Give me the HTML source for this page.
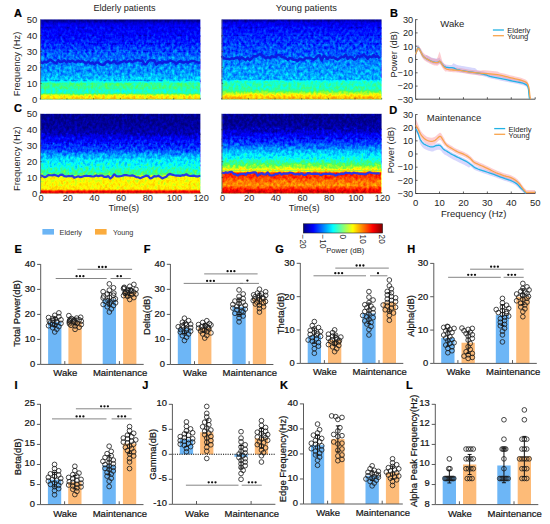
<!DOCTYPE html>
<html><head><meta charset="utf-8"><style>
html,body{margin:0;padding:0;background:#fff;width:550px;height:524px;overflow:hidden}
svg{display:block}
text{font-family:"Liberation Sans",sans-serif;stroke:#141414;stroke-width:0.22px;paint-order:stroke}
text.m{stroke:none}
</style></head><body>
<svg width="550" height="524" viewBox="0 0 550 524">
<defs>
<linearGradient id="sAE" gradientUnits="userSpaceOnUse" x1="0" y1="19.5" x2="0" y2="99.4"><stop offset="0" stop-color="rgb(3,3,3)"/><stop offset="0.02" stop-color="rgb(8,8,8)"/><stop offset="0.04" stop-color="rgb(20,20,20)"/><stop offset="0.07" stop-color="rgb(29,29,29)"/><stop offset="0.2" stop-color="rgb(33,33,33)"/><stop offset="0.33" stop-color="rgb(43,43,43)"/><stop offset="0.42" stop-color="rgb(54,54,54)"/><stop offset="0.49" stop-color="rgb(60,60,60)"/><stop offset="0.56" stop-color="rgb(65,65,65)"/><stop offset="0.66" stop-color="rgb(69,69,69)"/><stop offset="0.71" stop-color="rgb(76,76,76)"/><stop offset="0.76" stop-color="rgb(84,84,84)"/><stop offset="0.78" stop-color="rgb(97,97,97)"/><stop offset="0.8" stop-color="rgb(116,116,116)"/><stop offset="0.86" stop-color="rgb(117,117,117)"/><stop offset="0.88" stop-color="rgb(106,106,106)"/><stop offset="0.92" stop-color="rgb(107,107,107)"/><stop offset="0.94" stop-color="rgb(143,143,143)"/><stop offset="0.96" stop-color="rgb(163,163,163)"/><stop offset="1" stop-color="rgb(170,170,170)"/></linearGradient>
<filter id="sAEf0" x="0" y="0" width="1" height="1" color-interpolation-filters="sRGB" filterUnits="objectBoundingBox">
<feTurbulence type="fractalNoise" baseFrequency="0.36 0.3" numOctaves="2" seed="3" result="n"/>
<feColorMatrix in="n" type="matrix" values="1 0 0 0 0 1 0 0 0 0 1 0 0 0 0 0 0 0 0 1" result="g0"/>
<feGaussianBlur in="g0" stdDeviation="0.45" result="g"/>
<feComposite in="SourceGraphic" in2="g" operator="arithmetic" k1="0" k2="1" k3="0.12" k4="-0.06" result="s"/>
<feComponentTransfer in="s"><feFuncR type="table" tableValues="0 0 0 0 0.3 1 1 1 0.5"/>
<feFuncG type="table" tableValues="0 0 0.5 1 1 1 0.5 0 0"/>
<feFuncB type="table" tableValues="0.5 1 1 1 0.35 0 0 0 0"/></feComponentTransfer>
</filter>
<filter id="sAEf1" x="0" y="0" width="1" height="1" color-interpolation-filters="sRGB" filterUnits="objectBoundingBox">
<feTurbulence type="fractalNoise" baseFrequency="0.36 0.3" numOctaves="2" seed="3" result="n"/>
<feColorMatrix in="n" type="matrix" values="1 0 0 0 0 1 0 0 0 0 1 0 0 0 0 0 0 0 0 1" result="g0"/>
<feGaussianBlur in="g0" stdDeviation="0.45" result="g"/>
<feComposite in="SourceGraphic" in2="g" operator="arithmetic" k1="0" k2="1" k3="0.16" k4="-0.08" result="s"/>
<feComponentTransfer in="s"><feFuncR type="table" tableValues="0 0 0 0 0.3 1 1 1 0.5"/>
<feFuncG type="table" tableValues="0 0 0.5 1 1 1 0.5 0 0"/>
<feFuncB type="table" tableValues="0.5 1 1 1 0.35 0 0 0 0"/></feComponentTransfer>
</filter>
<filter id="sAEf2" x="0" y="0" width="1" height="1" color-interpolation-filters="sRGB" filterUnits="objectBoundingBox">
<feTurbulence type="fractalNoise" baseFrequency="0.36 0.3" numOctaves="2" seed="3" result="n"/>
<feColorMatrix in="n" type="matrix" values="1 0 0 0 0 1 0 0 0 0 1 0 0 0 0 0 0 0 0 1" result="g0"/>
<feGaussianBlur in="g0" stdDeviation="0.45" result="g"/>
<feComposite in="SourceGraphic" in2="g" operator="arithmetic" k1="0" k2="1" k3="0.2" k4="-0.1" result="s"/>
<feComponentTransfer in="s"><feFuncR type="table" tableValues="0 0 0 0 0.3 1 1 1 0.5"/>
<feFuncG type="table" tableValues="0 0 0.5 1 1 1 0.5 0 0"/>
<feFuncB type="table" tableValues="0.5 1 1 1 0.35 0 0 0 0"/></feComponentTransfer>
</filter>
<filter id="sAEf3" x="0" y="0" width="1" height="1" color-interpolation-filters="sRGB" filterUnits="objectBoundingBox">
<feTurbulence type="fractalNoise" baseFrequency="0.36 0.3" numOctaves="2" seed="3" result="n"/>
<feColorMatrix in="n" type="matrix" values="1 0 0 0 0 1 0 0 0 0 1 0 0 0 0 0 0 0 0 1" result="g0"/>
<feGaussianBlur in="g0" stdDeviation="0.45" result="g"/>
<feComposite in="SourceGraphic" in2="g" operator="arithmetic" k1="0" k2="1" k3="0.24" k4="-0.12" result="s"/>
<feComponentTransfer in="s"><feFuncR type="table" tableValues="0 0 0 0 0.3 1 1 1 0.5"/>
<feFuncG type="table" tableValues="0 0 0.5 1 1 1 0.5 0 0"/>
<feFuncB type="table" tableValues="0.5 1 1 1 0.35 0 0 0 0"/></feComponentTransfer>
</filter>
<filter id="sAEf4" x="0" y="0" width="1" height="1" color-interpolation-filters="sRGB" filterUnits="objectBoundingBox">
<feTurbulence type="fractalNoise" baseFrequency="0.36 0.3" numOctaves="2" seed="3" result="n"/>
<feColorMatrix in="n" type="matrix" values="1 0 0 0 0 1 0 0 0 0 1 0 0 0 0 0 0 0 0 1" result="g0"/>
<feGaussianBlur in="g0" stdDeviation="0.45" result="g"/>
<feComposite in="SourceGraphic" in2="g" operator="arithmetic" k1="0" k2="1" k3="0.26" k4="-0.13" result="s"/>
<feComponentTransfer in="s"><feFuncR type="table" tableValues="0 0 0 0 0.3 1 1 1 0.5"/>
<feFuncG type="table" tableValues="0 0 0.5 1 1 1 0.5 0 0"/>
<feFuncB type="table" tableValues="0.5 1 1 1 0.35 0 0 0 0"/></feComponentTransfer>
</filter>
<filter id="sAEf5" x="0" y="0" width="1" height="1" color-interpolation-filters="sRGB" filterUnits="objectBoundingBox">
<feTurbulence type="fractalNoise" baseFrequency="0.36 0.3" numOctaves="2" seed="3" result="n"/>
<feColorMatrix in="n" type="matrix" values="1 0 0 0 0 1 0 0 0 0 1 0 0 0 0 0 0 0 0 1" result="g0"/>
<feGaussianBlur in="g0" stdDeviation="0.45" result="g"/>
<feComposite in="SourceGraphic" in2="g" operator="arithmetic" k1="0" k2="1" k3="0.19" k4="-0.095" result="s"/>
<feComponentTransfer in="s"><feFuncR type="table" tableValues="0 0 0 0 0.3 1 1 1 0.5"/>
<feFuncG type="table" tableValues="0 0 0.5 1 1 1 0.5 0 0"/>
<feFuncB type="table" tableValues="0.5 1 1 1 0.35 0 0 0 0"/></feComponentTransfer>
</filter>
<linearGradient id="sAY" gradientUnits="userSpaceOnUse" x1="0" y1="19.5" x2="0" y2="99.4"><stop offset="0" stop-color="rgb(5,5,5)"/><stop offset="0.02" stop-color="rgb(13,13,13)"/><stop offset="0.04" stop-color="rgb(26,26,26)"/><stop offset="0.1" stop-color="rgb(33,33,33)"/><stop offset="0.2" stop-color="rgb(41,41,41)"/><stop offset="0.33" stop-color="rgb(48,48,48)"/><stop offset="0.42" stop-color="rgb(54,54,54)"/><stop offset="0.51" stop-color="rgb(64,64,64)"/><stop offset="0.62" stop-color="rgb(71,71,71)"/><stop offset="0.74" stop-color="rgb(76,76,76)"/><stop offset="0.76" stop-color="rgb(89,89,89)"/><stop offset="0.78" stop-color="rgb(105,105,105)"/><stop offset="0.88" stop-color="rgb(112,112,112)"/><stop offset="0.9" stop-color="rgb(128,128,128)"/><stop offset="0.94" stop-color="rgb(158,158,158)"/><stop offset="0.97" stop-color="rgb(173,173,173)"/><stop offset="1" stop-color="rgb(178,178,178)"/></linearGradient>
<filter id="sAYf0" x="0" y="0" width="1" height="1" color-interpolation-filters="sRGB" filterUnits="objectBoundingBox">
<feTurbulence type="fractalNoise" baseFrequency="0.36 0.3" numOctaves="2" seed="5" result="n"/>
<feColorMatrix in="n" type="matrix" values="1 0 0 0 0 1 0 0 0 0 1 0 0 0 0 0 0 0 0 1" result="g0"/>
<feGaussianBlur in="g0" stdDeviation="0.45" result="g"/>
<feComposite in="SourceGraphic" in2="g" operator="arithmetic" k1="0" k2="1" k3="0.14" k4="-0.07" result="s"/>
<feComponentTransfer in="s"><feFuncR type="table" tableValues="0 0 0 0 0.3 1 1 1 0.5"/>
<feFuncG type="table" tableValues="0 0 0.5 1 1 1 0.5 0 0"/>
<feFuncB type="table" tableValues="0.5 1 1 1 0.35 0 0 0 0"/></feComponentTransfer>
</filter>
<filter id="sAYf1" x="0" y="0" width="1" height="1" color-interpolation-filters="sRGB" filterUnits="objectBoundingBox">
<feTurbulence type="fractalNoise" baseFrequency="0.36 0.3" numOctaves="2" seed="5" result="n"/>
<feColorMatrix in="n" type="matrix" values="1 0 0 0 0 1 0 0 0 0 1 0 0 0 0 0 0 0 0 1" result="g0"/>
<feGaussianBlur in="g0" stdDeviation="0.45" result="g"/>
<feComposite in="SourceGraphic" in2="g" operator="arithmetic" k1="0" k2="1" k3="0.18" k4="-0.09" result="s"/>
<feComponentTransfer in="s"><feFuncR type="table" tableValues="0 0 0 0 0.3 1 1 1 0.5"/>
<feFuncG type="table" tableValues="0 0 0.5 1 1 1 0.5 0 0"/>
<feFuncB type="table" tableValues="0.5 1 1 1 0.35 0 0 0 0"/></feComponentTransfer>
</filter>
<filter id="sAYf2" x="0" y="0" width="1" height="1" color-interpolation-filters="sRGB" filterUnits="objectBoundingBox">
<feTurbulence type="fractalNoise" baseFrequency="0.36 0.3" numOctaves="2" seed="5" result="n"/>
<feColorMatrix in="n" type="matrix" values="1 0 0 0 0 1 0 0 0 0 1 0 0 0 0 0 0 0 0 1" result="g0"/>
<feGaussianBlur in="g0" stdDeviation="0.45" result="g"/>
<feComposite in="SourceGraphic" in2="g" operator="arithmetic" k1="0" k2="1" k3="0.22" k4="-0.11" result="s"/>
<feComponentTransfer in="s"><feFuncR type="table" tableValues="0 0 0 0 0.3 1 1 1 0.5"/>
<feFuncG type="table" tableValues="0 0 0.5 1 1 1 0.5 0 0"/>
<feFuncB type="table" tableValues="0.5 1 1 1 0.35 0 0 0 0"/></feComponentTransfer>
</filter>
<filter id="sAYf3" x="0" y="0" width="1" height="1" color-interpolation-filters="sRGB" filterUnits="objectBoundingBox">
<feTurbulence type="fractalNoise" baseFrequency="0.36 0.3" numOctaves="2" seed="5" result="n"/>
<feColorMatrix in="n" type="matrix" values="1 0 0 0 0 1 0 0 0 0 1 0 0 0 0 0 0 0 0 1" result="g0"/>
<feGaussianBlur in="g0" stdDeviation="0.45" result="g"/>
<feComposite in="SourceGraphic" in2="g" operator="arithmetic" k1="0" k2="1" k3="0.26" k4="-0.13" result="s"/>
<feComponentTransfer in="s"><feFuncR type="table" tableValues="0 0 0 0 0.3 1 1 1 0.5"/>
<feFuncG type="table" tableValues="0 0 0.5 1 1 1 0.5 0 0"/>
<feFuncB type="table" tableValues="0.5 1 1 1 0.35 0 0 0 0"/></feComponentTransfer>
</filter>
<filter id="sAYf4" x="0" y="0" width="1" height="1" color-interpolation-filters="sRGB" filterUnits="objectBoundingBox">
<feTurbulence type="fractalNoise" baseFrequency="0.36 0.3" numOctaves="2" seed="5" result="n"/>
<feColorMatrix in="n" type="matrix" values="1 0 0 0 0 1 0 0 0 0 1 0 0 0 0 0 0 0 0 1" result="g0"/>
<feGaussianBlur in="g0" stdDeviation="0.45" result="g"/>
<feComposite in="SourceGraphic" in2="g" operator="arithmetic" k1="0" k2="1" k3="0.19" k4="-0.095" result="s"/>
<feComponentTransfer in="s"><feFuncR type="table" tableValues="0 0 0 0 0.3 1 1 1 0.5"/>
<feFuncG type="table" tableValues="0 0 0.5 1 1 1 0.5 0 0"/>
<feFuncB type="table" tableValues="0.5 1 1 1 0.35 0 0 0 0"/></feComponentTransfer>
</filter>
<linearGradient id="sCE" gradientUnits="userSpaceOnUse" x1="0" y1="113.9" x2="0" y2="193.5"><stop offset="0" stop-color="rgb(3,3,3)"/><stop offset="0.15" stop-color="rgb(8,8,8)"/><stop offset="0.24" stop-color="rgb(13,13,13)"/><stop offset="0.29" stop-color="rgb(26,26,26)"/><stop offset="0.36" stop-color="rgb(36,36,36)"/><stop offset="0.45" stop-color="rgb(48,48,48)"/><stop offset="0.51" stop-color="rgb(69,69,69)"/><stop offset="0.57" stop-color="rgb(89,89,89)"/><stop offset="0.66" stop-color="rgb(98,98,98)"/><stop offset="0.69" stop-color="rgb(107,107,107)"/><stop offset="0.74" stop-color="rgb(117,117,117)"/><stop offset="0.77" stop-color="rgb(133,133,133)"/><stop offset="0.78" stop-color="rgb(158,158,158)"/><stop offset="0.94" stop-color="rgb(163,163,163)"/><stop offset="0.95" stop-color="rgb(173,173,173)"/><stop offset="0.97" stop-color="rgb(222,222,222)"/><stop offset="1" stop-color="rgb(230,230,230)"/></linearGradient>
<filter id="sCEf0" x="0" y="0" width="1" height="1" color-interpolation-filters="sRGB" filterUnits="objectBoundingBox">
<feTurbulence type="fractalNoise" baseFrequency="0.36 0.3" numOctaves="2" seed="9" result="n"/>
<feColorMatrix in="n" type="matrix" values="1 0 0 0 0 1 0 0 0 0 1 0 0 0 0 0 0 0 0 1" result="g0"/>
<feGaussianBlur in="g0" stdDeviation="0.45" result="g"/>
<feComposite in="SourceGraphic" in2="g" operator="arithmetic" k1="0" k2="1" k3="0.16" k4="-0.08" result="s"/>
<feComponentTransfer in="s"><feFuncR type="table" tableValues="0 0 0 0 0.3 1 1 1 0.5"/>
<feFuncG type="table" tableValues="0 0 0.5 1 1 1 0.5 0 0"/>
<feFuncB type="table" tableValues="0.5 1 1 1 0.35 0 0 0 0"/></feComponentTransfer>
</filter>
<filter id="sCEf1" x="0" y="0" width="1" height="1" color-interpolation-filters="sRGB" filterUnits="objectBoundingBox">
<feTurbulence type="fractalNoise" baseFrequency="0.36 0.3" numOctaves="2" seed="9" result="n"/>
<feColorMatrix in="n" type="matrix" values="1 0 0 0 0 1 0 0 0 0 1 0 0 0 0 0 0 0 0 1" result="g0"/>
<feGaussianBlur in="g0" stdDeviation="0.45" result="g"/>
<feComposite in="SourceGraphic" in2="g" operator="arithmetic" k1="0" k2="1" k3="0.21" k4="-0.105" result="s"/>
<feComponentTransfer in="s"><feFuncR type="table" tableValues="0 0 0 0 0.3 1 1 1 0.5"/>
<feFuncG type="table" tableValues="0 0 0.5 1 1 1 0.5 0 0"/>
<feFuncB type="table" tableValues="0.5 1 1 1 0.35 0 0 0 0"/></feComponentTransfer>
</filter>
<filter id="sCEf2" x="0" y="0" width="1" height="1" color-interpolation-filters="sRGB" filterUnits="objectBoundingBox">
<feTurbulence type="fractalNoise" baseFrequency="0.36 0.3" numOctaves="2" seed="9" result="n"/>
<feColorMatrix in="n" type="matrix" values="1 0 0 0 0 1 0 0 0 0 1 0 0 0 0 0 0 0 0 1" result="g0"/>
<feGaussianBlur in="g0" stdDeviation="0.45" result="g"/>
<feComposite in="SourceGraphic" in2="g" operator="arithmetic" k1="0" k2="1" k3="0.26" k4="-0.13" result="s"/>
<feComponentTransfer in="s"><feFuncR type="table" tableValues="0 0 0 0 0.3 1 1 1 0.5"/>
<feFuncG type="table" tableValues="0 0 0.5 1 1 1 0.5 0 0"/>
<feFuncB type="table" tableValues="0.5 1 1 1 0.35 0 0 0 0"/></feComponentTransfer>
</filter>
<filter id="sCEf3" x="0" y="0" width="1" height="1" color-interpolation-filters="sRGB" filterUnits="objectBoundingBox">
<feTurbulence type="fractalNoise" baseFrequency="0.36 0.3" numOctaves="2" seed="9" result="n"/>
<feColorMatrix in="n" type="matrix" values="1 0 0 0 0 1 0 0 0 0 1 0 0 0 0 0 0 0 0 1" result="g0"/>
<feGaussianBlur in="g0" stdDeviation="0.45" result="g"/>
<feComposite in="SourceGraphic" in2="g" operator="arithmetic" k1="0" k2="1" k3="0.17" k4="-0.085" result="s"/>
<feComponentTransfer in="s"><feFuncR type="table" tableValues="0 0 0 0 0.3 1 1 1 0.5"/>
<feFuncG type="table" tableValues="0 0 0.5 1 1 1 0.5 0 0"/>
<feFuncB type="table" tableValues="0.5 1 1 1 0.35 0 0 0 0"/></feComponentTransfer>
</filter>
<linearGradient id="sCY" gradientUnits="userSpaceOnUse" x1="0" y1="113.9" x2="0" y2="193.5"><stop offset="0" stop-color="rgb(3,3,3)"/><stop offset="0.15" stop-color="rgb(8,8,8)"/><stop offset="0.2" stop-color="rgb(15,15,15)"/><stop offset="0.26" stop-color="rgb(28,28,28)"/><stop offset="0.35" stop-color="rgb(43,43,43)"/><stop offset="0.41" stop-color="rgb(59,59,59)"/><stop offset="0.47" stop-color="rgb(79,79,79)"/><stop offset="0.54" stop-color="rgb(94,94,94)"/><stop offset="0.59" stop-color="rgb(107,107,107)"/><stop offset="0.64" stop-color="rgb(128,128,128)"/><stop offset="0.68" stop-color="rgb(148,148,148)"/><stop offset="0.7" stop-color="rgb(161,161,161)"/><stop offset="0.73" stop-color="rgb(171,171,171)"/><stop offset="0.74" stop-color="rgb(214,214,214)"/><stop offset="0.8" stop-color="rgb(209,209,209)"/><stop offset="0.84" stop-color="rgb(194,194,194)"/><stop offset="0.9" stop-color="rgb(189,189,189)"/><stop offset="0.93" stop-color="rgb(204,204,204)"/><stop offset="0.96" stop-color="rgb(224,224,224)"/><stop offset="1" stop-color="rgb(235,235,235)"/></linearGradient>
<filter id="sCYf0" x="0" y="0" width="1" height="1" color-interpolation-filters="sRGB" filterUnits="objectBoundingBox">
<feTurbulence type="fractalNoise" baseFrequency="0.36 0.3" numOctaves="2" seed="11" result="n"/>
<feColorMatrix in="n" type="matrix" values="1 0 0 0 0 1 0 0 0 0 1 0 0 0 0 0 0 0 0 1" result="g0"/>
<feGaussianBlur in="g0" stdDeviation="0.45" result="g"/>
<feComposite in="SourceGraphic" in2="g" operator="arithmetic" k1="0" k2="1" k3="0.16" k4="-0.08" result="s"/>
<feComponentTransfer in="s"><feFuncR type="table" tableValues="0 0 0 0 0.3 1 1 1 0.5"/>
<feFuncG type="table" tableValues="0 0 0.5 1 1 1 0.5 0 0"/>
<feFuncB type="table" tableValues="0.5 1 1 1 0.35 0 0 0 0"/></feComponentTransfer>
</filter>
<filter id="sCYf1" x="0" y="0" width="1" height="1" color-interpolation-filters="sRGB" filterUnits="objectBoundingBox">
<feTurbulence type="fractalNoise" baseFrequency="0.36 0.3" numOctaves="2" seed="11" result="n"/>
<feColorMatrix in="n" type="matrix" values="1 0 0 0 0 1 0 0 0 0 1 0 0 0 0 0 0 0 0 1" result="g0"/>
<feGaussianBlur in="g0" stdDeviation="0.45" result="g"/>
<feComposite in="SourceGraphic" in2="g" operator="arithmetic" k1="0" k2="1" k3="0.21" k4="-0.105" result="s"/>
<feComponentTransfer in="s"><feFuncR type="table" tableValues="0 0 0 0 0.3 1 1 1 0.5"/>
<feFuncG type="table" tableValues="0 0 0.5 1 1 1 0.5 0 0"/>
<feFuncB type="table" tableValues="0.5 1 1 1 0.35 0 0 0 0"/></feComponentTransfer>
</filter>
<filter id="sCYf2" x="0" y="0" width="1" height="1" color-interpolation-filters="sRGB" filterUnits="objectBoundingBox">
<feTurbulence type="fractalNoise" baseFrequency="0.36 0.3" numOctaves="2" seed="11" result="n"/>
<feColorMatrix in="n" type="matrix" values="1 0 0 0 0 1 0 0 0 0 1 0 0 0 0 0 0 0 0 1" result="g0"/>
<feGaussianBlur in="g0" stdDeviation="0.45" result="g"/>
<feComposite in="SourceGraphic" in2="g" operator="arithmetic" k1="0" k2="1" k3="0.24" k4="-0.12" result="s"/>
<feComponentTransfer in="s"><feFuncR type="table" tableValues="0 0 0 0 0.3 1 1 1 0.5"/>
<feFuncG type="table" tableValues="0 0 0.5 1 1 1 0.5 0 0"/>
<feFuncB type="table" tableValues="0.5 1 1 1 0.35 0 0 0 0"/></feComponentTransfer>
</filter>
<filter id="sCYf3" x="0" y="0" width="1" height="1" color-interpolation-filters="sRGB" filterUnits="objectBoundingBox">
<feTurbulence type="fractalNoise" baseFrequency="0.36 0.3" numOctaves="2" seed="11" result="n"/>
<feColorMatrix in="n" type="matrix" values="1 0 0 0 0 1 0 0 0 0 1 0 0 0 0 0 0 0 0 1" result="g0"/>
<feGaussianBlur in="g0" stdDeviation="0.45" result="g"/>
<feComposite in="SourceGraphic" in2="g" operator="arithmetic" k1="0" k2="1" k3="0.2" k4="-0.1" result="s"/>
<feComponentTransfer in="s"><feFuncR type="table" tableValues="0 0 0 0 0.3 1 1 1 0.5"/>
<feFuncG type="table" tableValues="0 0 0.5 1 1 1 0.5 0 0"/>
<feFuncB type="table" tableValues="0.5 1 1 1 0.35 0 0 0 0"/></feComponentTransfer>
</filter>
<linearGradient id="cbg" x1="0" y1="0" x2="1" y2="0"><stop offset="0" stop-color="#000080"/><stop offset="0.125" stop-color="#0000ff"/><stop offset="0.375" stop-color="#00ffff"/><stop offset="0.625" stop-color="#ffff00"/><stop offset="0.875" stop-color="#ff0000"/><stop offset="1" stop-color="#800000"/></linearGradient>
</defs>
<rect width="550" height="524" fill="#fff"/>
<rect x="40.3" y="19.5" width="160" height="8.99" fill="url(#sAE)" filter="url(#sAEf0)"/>
<rect x="40.3" y="27.49" width="160" height="8.99" fill="url(#sAE)" filter="url(#sAEf1)"/>
<rect x="40.3" y="35.48" width="160" height="8.99" fill="url(#sAE)" filter="url(#sAEf2)"/>
<rect x="40.3" y="43.47" width="160" height="8.99" fill="url(#sAE)" filter="url(#sAEf3)"/>
<rect x="40.3" y="51.46" width="160" height="30.46" fill="url(#sAE)" filter="url(#sAEf4)"/>
<rect x="40.3" y="80.92" width="160" height="18.48" fill="url(#sAE)" filter="url(#sAEf5)"/>
<polyline points="40.3,61.91 42.3,63.25 44.3,61.74 46.3,62.42 48.3,61.33 50.3,59.49 52.3,61.16 54.3,62.44 56.3,63.39 58.3,60.04 60.3,62.16 62.3,61.66 64.3,60.24 66.3,62.39 68.3,60.84 70.3,61.75 72.3,60.62 74.3,61.77 76.3,62.13 78.3,60.5 80.3,61.83 82.3,61.03 84.3,62.14 86.3,63.36 88.3,61.54 90.3,63.36 92.3,62.41 94.3,64.45 96.3,62.46 98.3,62.61 100.3,64.22 102.3,64.8 104.3,64.58 106.3,61.72 108.3,61.24 110.3,63.04 112.3,62.3 114.3,60.89 116.3,63.42 118.3,63.48 120.3,62.33 122.3,61.87 124.3,60.73 126.3,62.25 128.3,61.28 130.3,60.67 132.3,62.16 134.3,60.77 136.3,60.52 138.3,60.03 140.3,60.95 142.3,60.44 144.3,64.13 146.3,64.01 148.3,61.19 150.3,59.98 152.3,60.64 154.3,60.22 156.3,64.73 158.3,62.74 160.3,62.21 162.3,63.23 164.3,61.8 166.3,62.54 168.3,61.79 170.3,60.47 172.3,61.49 174.3,62.01 176.3,63.89 178.3,62.12 180.3,61.06 182.3,62.38 184.3,62.48 186.3,61.57 188.3,62.62 190.3,61.35 192.3,60.88 194.3,61.25 196.3,61.92 198.3,62.69 200.3,62.56" fill="none" stroke="#0c1ce0" stroke-width="2.5" stroke-linejoin="round"/>
<rect x="221.7" y="19.5" width="159.8" height="8.99" fill="url(#sAY)" filter="url(#sAYf0)"/>
<rect x="221.7" y="27.49" width="159.8" height="8.99" fill="url(#sAY)" filter="url(#sAYf1)"/>
<rect x="221.7" y="35.48" width="159.8" height="8.99" fill="url(#sAY)" filter="url(#sAYf2)"/>
<rect x="221.7" y="43.47" width="159.8" height="36.95" fill="url(#sAY)" filter="url(#sAYf3)"/>
<rect x="221.7" y="79.42" width="159.8" height="19.98" fill="url(#sAY)" filter="url(#sAYf4)"/>
<polyline points="221.7,55.91 223.7,58.17 225.7,58.66 227.7,58.66 229.7,59.46 231.7,58.21 233.7,58.81 235.7,57.89 237.7,57.58 239.7,59.53 241.7,57.26 243.7,58.59 245.7,60.18 247.7,57.7 249.7,60.31 251.7,58.46 253.7,55.96 255.7,56.31 257.7,55.68 259.7,53.9 261.7,55.13 263.7,56.37 265.7,58.41 267.7,57.09 269.7,57.96 271.7,56.3 273.7,56.83 275.7,56.75 277.7,54.92 279.7,54.92 281.7,56.76 283.7,57.19 285.7,58.11 287.7,59.91 289.7,57.88 291.7,58.72 293.7,59.79 295.7,59.94 297.7,61.1 299.7,58.42 301.7,59.48 303.7,59.9 305.7,57.8 307.7,57.88 309.7,58.16 311.7,58.58 313.7,59.66 315.7,58.33 317.7,55.78 319.7,55.32 321.7,60.56 323.7,55.75 325.7,56.82 327.7,59 329.7,56.75 331.7,57.85 333.7,57.24 335.7,58.81 337.7,59.56 339.7,58.2 341.7,56.71 343.7,57.29 345.7,54.52 347.7,58.97 349.7,56.94 351.7,56.92 353.7,59.57 355.7,58.96 357.7,55.88 359.7,56.85 361.7,55.93 363.7,54.49 365.7,56.35 367.7,58.83 369.7,56.28 371.7,57.17 373.7,54.93 375.7,56.92 377.7,56.12 379.7,58.46" fill="none" stroke="#0c1ce0" stroke-width="2.5" stroke-linejoin="round"/>
<rect x="40.3" y="113.9" width="160" height="20.9" fill="url(#sCE)" filter="url(#sCEf0)"/>
<rect x="40.3" y="133.8" width="160" height="10.95" fill="url(#sCE)" filter="url(#sCEf1)"/>
<rect x="40.3" y="143.75" width="160" height="31.84" fill="url(#sCE)" filter="url(#sCEf2)"/>
<rect x="40.3" y="174.59" width="160" height="18.91" fill="url(#sCE)" filter="url(#sCEf3)"/>
<polyline points="40.3,175.25 42.3,175.92 44.3,177.08 46.3,176.58 48.3,175.14 50.3,175.25 52.3,175.43 54.3,174.86 56.3,175.57 58.3,176.3 60.3,174.88 62.3,174.72 64.3,176.08 66.3,176.53 68.3,175.96 70.3,176.22 72.3,175.83 74.3,177.59 76.3,176.99 78.3,176.29 80.3,177.12 82.3,176.7 84.3,175.99 86.3,175.79 88.3,175.99 90.3,176.16 92.3,176.51 94.3,176.32 96.3,175.41 98.3,176.22 100.3,175.67 102.3,175.64 104.3,176.97 106.3,176.88 108.3,176.11 110.3,178.5 112.3,176.8 114.3,174.29 116.3,176.11 118.3,176.34 120.3,176.27 122.3,175.8 124.3,175.11 126.3,175.16 128.3,175.52 130.3,175.76 132.3,175.38 134.3,176.03 136.3,177.14 138.3,177.24 140.3,178.16 142.3,177.28 144.3,176.46 146.3,175.6 148.3,176.15 150.3,178.43 152.3,177.7 154.3,176.15 156.3,176.51 158.3,175.7 160.3,176.94 162.3,178.4 164.3,177.45 166.3,176.73 168.3,174.59 170.3,173.91 172.3,174.66 174.3,175.27 176.3,175.61 178.3,175.57 180.3,175.94 182.3,175.15 184.3,175.34 186.3,174.25 188.3,175.5 190.3,175.99 192.3,175.79 194.3,175.69 196.3,176.47 198.3,176.31 200.3,175.77" fill="none" stroke="#2a38e4" stroke-width="2.2" stroke-linejoin="round"/>
<rect x="221.7" y="113.9" width="159.8" height="15.93" fill="url(#sCY)" filter="url(#sCYf0)"/>
<rect x="221.7" y="128.83" width="159.8" height="10.95" fill="url(#sCY)" filter="url(#sCYf1)"/>
<rect x="221.7" y="138.78" width="159.8" height="32.84" fill="url(#sCY)" filter="url(#sCYf2)"/>
<rect x="221.7" y="170.62" width="159.8" height="22.88" fill="url(#sCY)" filter="url(#sCYf3)"/>
<polyline points="221.7,172.41 223.7,173.26 225.7,172.26 227.7,172.83 229.7,172.16 231.7,171.79 233.7,173.92 235.7,174.43 237.7,175.56 239.7,174.31 241.7,173.89 243.7,173.74 245.7,174.88 247.7,172.72 249.7,173.29 251.7,172.74 253.7,172.37 255.7,172.44 257.7,175.56 259.7,174.27 261.7,173.11 263.7,174.52 265.7,174.49 267.7,172.35 269.7,175.14 271.7,175.51 273.7,175.16 275.7,174.09 277.7,173.83 279.7,172.96 281.7,174.53 283.7,173.6 285.7,173.72 287.7,173.71 289.7,172.72 291.7,172.77 293.7,173.91 295.7,174.48 297.7,174.04 299.7,174.31 301.7,173.25 303.7,174.92 305.7,174.79 307.7,173.11 309.7,173.41 311.7,174.01 313.7,173.59 315.7,173.79 317.7,173.62 319.7,174.6 321.7,174.84 323.7,173.81 325.7,173.78 327.7,174 329.7,173.67 331.7,174.05 333.7,174.34 335.7,175.56 337.7,174.45 339.7,174.3 341.7,173.66 343.7,174.01 345.7,172.7 347.7,173.03 349.7,172.93 351.7,173.86 353.7,172.71 355.7,173.13 357.7,173.42 359.7,173.88 361.7,173.8 363.7,174.1 365.7,174.28 367.7,173.11 369.7,172.23 371.7,173.03 373.7,173.27 375.7,173.5 377.7,173.41 379.7,173.32" fill="none" stroke="#2a38e4" stroke-width="2.2" stroke-linejoin="round"/>
<path d="M40.6,19.5 V99.4" stroke="#6a6a70" stroke-width="0.8" fill="none"/>
<path d="M40.3,99.15 H200.3" stroke="#6a6a70" stroke-width="0.5" fill="none" opacity="0.7"/>
<text x="37.3" y="22.9" font-size="9.5" text-anchor="end" fill="#1e1e1e" class="m">50</text>
<line x1="40.3" y1="35.48" x2="41.8" y2="35.48" stroke="#333" stroke-width="0.6"/>
<text x="37.3" y="38.88" font-size="9.5" text-anchor="end" fill="#1e1e1e" class="m">40</text>
<line x1="40.3" y1="51.46" x2="41.8" y2="51.46" stroke="#333" stroke-width="0.6"/>
<text x="37.3" y="54.86" font-size="9.5" text-anchor="end" fill="#1e1e1e" class="m">30</text>
<line x1="40.3" y1="67.44" x2="41.8" y2="67.44" stroke="#333" stroke-width="0.6"/>
<text x="37.3" y="70.84" font-size="9.5" text-anchor="end" fill="#1e1e1e" class="m">20</text>
<line x1="40.3" y1="83.42" x2="41.8" y2="83.42" stroke="#333" stroke-width="0.6"/>
<text x="37.3" y="86.82" font-size="9.5" text-anchor="end" fill="#1e1e1e" class="m">10</text>
<text x="37.3" y="102.8" font-size="9.5" text-anchor="end" fill="#1e1e1e" class="m">0</text>
<line x1="40.3" y1="97.9" x2="40.3" y2="99.4" stroke="#333" stroke-width="0.6"/>
<line x1="66.97" y1="97.9" x2="66.97" y2="99.4" stroke="#333" stroke-width="0.6"/>
<line x1="93.63" y1="97.9" x2="93.63" y2="99.4" stroke="#333" stroke-width="0.6"/>
<line x1="120.3" y1="97.9" x2="120.3" y2="99.4" stroke="#333" stroke-width="0.6"/>
<line x1="146.97" y1="97.9" x2="146.97" y2="99.4" stroke="#333" stroke-width="0.6"/>
<line x1="173.63" y1="97.9" x2="173.63" y2="99.4" stroke="#333" stroke-width="0.6"/>
<line x1="200.3" y1="97.9" x2="200.3" y2="99.4" stroke="#333" stroke-width="0.6"/>
<path d="M40.6,113.9 V193.5" stroke="#6a6a70" stroke-width="0.8" fill="none"/>
<path d="M40.3,193.25 H200.3" stroke="#6a6a70" stroke-width="0.5" fill="none" opacity="0.7"/>
<text x="37.3" y="117.3" font-size="9.5" text-anchor="end" fill="#1e1e1e" class="m">50</text>
<line x1="40.3" y1="129.82" x2="41.8" y2="129.82" stroke="#333" stroke-width="0.6"/>
<text x="37.3" y="133.22" font-size="9.5" text-anchor="end" fill="#1e1e1e" class="m">40</text>
<line x1="40.3" y1="145.74" x2="41.8" y2="145.74" stroke="#333" stroke-width="0.6"/>
<text x="37.3" y="149.14" font-size="9.5" text-anchor="end" fill="#1e1e1e" class="m">30</text>
<line x1="40.3" y1="161.66" x2="41.8" y2="161.66" stroke="#333" stroke-width="0.6"/>
<text x="37.3" y="165.06" font-size="9.5" text-anchor="end" fill="#1e1e1e" class="m">20</text>
<line x1="40.3" y1="177.58" x2="41.8" y2="177.58" stroke="#333" stroke-width="0.6"/>
<text x="37.3" y="180.98" font-size="9.5" text-anchor="end" fill="#1e1e1e" class="m">10</text>
<text x="37.3" y="196.9" font-size="9.5" text-anchor="end" fill="#1e1e1e" class="m">0</text>
<line x1="40.3" y1="192" x2="40.3" y2="193.5" stroke="#333" stroke-width="0.6"/>
<text x="41.1" y="201.3" font-size="9.2" text-anchor="middle" fill="#1e1e1e" class="m">0</text>
<line x1="66.97" y1="192" x2="66.97" y2="193.5" stroke="#333" stroke-width="0.6"/>
<text x="67.77" y="201.3" font-size="9.2" text-anchor="middle" fill="#1e1e1e" class="m">20</text>
<line x1="93.63" y1="192" x2="93.63" y2="193.5" stroke="#333" stroke-width="0.6"/>
<text x="94.43" y="201.3" font-size="9.2" text-anchor="middle" fill="#1e1e1e" class="m">40</text>
<line x1="120.3" y1="192" x2="120.3" y2="193.5" stroke="#333" stroke-width="0.6"/>
<text x="121.1" y="201.3" font-size="9.2" text-anchor="middle" fill="#1e1e1e" class="m">60</text>
<line x1="146.97" y1="192" x2="146.97" y2="193.5" stroke="#333" stroke-width="0.6"/>
<text x="147.77" y="201.3" font-size="9.2" text-anchor="middle" fill="#1e1e1e" class="m">80</text>
<line x1="173.63" y1="192" x2="173.63" y2="193.5" stroke="#333" stroke-width="0.6"/>
<text x="174.43" y="201.3" font-size="9.2" text-anchor="middle" fill="#1e1e1e" class="m">100</text>
<line x1="200.3" y1="192" x2="200.3" y2="193.5" stroke="#333" stroke-width="0.6"/>
<text x="201.1" y="201.3" font-size="9.2" text-anchor="middle" fill="#1e1e1e" class="m">120</text>
<text x="123.8" y="210.8" font-size="9.2" text-anchor="middle" fill="#1e1e1e" class="m">Time(s)</text>
<path d="M222,19.5 V99.4" stroke="#6a6a70" stroke-width="0.8" fill="none"/>
<path d="M221.7,99.15 H381.7" stroke="#6a6a70" stroke-width="0.5" fill="none" opacity="0.7"/>
<line x1="221.7" y1="35.48" x2="223.2" y2="35.48" stroke="#333" stroke-width="0.6"/>
<line x1="221.7" y1="51.46" x2="223.2" y2="51.46" stroke="#333" stroke-width="0.6"/>
<line x1="221.7" y1="67.44" x2="223.2" y2="67.44" stroke="#333" stroke-width="0.6"/>
<line x1="221.7" y1="83.42" x2="223.2" y2="83.42" stroke="#333" stroke-width="0.6"/>
<line x1="221.7" y1="97.9" x2="221.7" y2="99.4" stroke="#333" stroke-width="0.6"/>
<line x1="248.37" y1="97.9" x2="248.37" y2="99.4" stroke="#333" stroke-width="0.6"/>
<line x1="275.03" y1="97.9" x2="275.03" y2="99.4" stroke="#333" stroke-width="0.6"/>
<line x1="301.7" y1="97.9" x2="301.7" y2="99.4" stroke="#333" stroke-width="0.6"/>
<line x1="328.37" y1="97.9" x2="328.37" y2="99.4" stroke="#333" stroke-width="0.6"/>
<line x1="355.03" y1="97.9" x2="355.03" y2="99.4" stroke="#333" stroke-width="0.6"/>
<line x1="381.7" y1="97.9" x2="381.7" y2="99.4" stroke="#333" stroke-width="0.6"/>
<path d="M222,113.9 V193.5" stroke="#6a6a70" stroke-width="0.8" fill="none"/>
<path d="M221.7,193.25 H381.7" stroke="#6a6a70" stroke-width="0.5" fill="none" opacity="0.7"/>
<line x1="221.7" y1="129.82" x2="223.2" y2="129.82" stroke="#333" stroke-width="0.6"/>
<line x1="221.7" y1="145.74" x2="223.2" y2="145.74" stroke="#333" stroke-width="0.6"/>
<line x1="221.7" y1="161.66" x2="223.2" y2="161.66" stroke="#333" stroke-width="0.6"/>
<line x1="221.7" y1="177.58" x2="223.2" y2="177.58" stroke="#333" stroke-width="0.6"/>
<line x1="221.7" y1="192" x2="221.7" y2="193.5" stroke="#333" stroke-width="0.6"/>
<text x="222.5" y="201.3" font-size="9.2" text-anchor="middle" fill="#1e1e1e" class="m">0</text>
<line x1="248.37" y1="192" x2="248.37" y2="193.5" stroke="#333" stroke-width="0.6"/>
<text x="249.17" y="201.3" font-size="9.2" text-anchor="middle" fill="#1e1e1e" class="m">20</text>
<line x1="275.03" y1="192" x2="275.03" y2="193.5" stroke="#333" stroke-width="0.6"/>
<text x="275.83" y="201.3" font-size="9.2" text-anchor="middle" fill="#1e1e1e" class="m">40</text>
<line x1="301.7" y1="192" x2="301.7" y2="193.5" stroke="#333" stroke-width="0.6"/>
<text x="302.5" y="201.3" font-size="9.2" text-anchor="middle" fill="#1e1e1e" class="m">60</text>
<line x1="328.37" y1="192" x2="328.37" y2="193.5" stroke="#333" stroke-width="0.6"/>
<text x="329.17" y="201.3" font-size="9.2" text-anchor="middle" fill="#1e1e1e" class="m">80</text>
<line x1="355.03" y1="192" x2="355.03" y2="193.5" stroke="#333" stroke-width="0.6"/>
<text x="355.83" y="201.3" font-size="9.2" text-anchor="middle" fill="#1e1e1e" class="m">100</text>
<line x1="381.7" y1="192" x2="381.7" y2="193.5" stroke="#333" stroke-width="0.6"/>
<text x="382.5" y="201.3" font-size="9.2" text-anchor="middle" fill="#1e1e1e" class="m">120</text>
<text x="304.2" y="210.8" font-size="9.2" text-anchor="middle" fill="#1e1e1e" class="m">Time(s)</text>
<text x="19.5" y="64" font-size="9.4" text-anchor="middle" fill="#1e1e1e" transform="rotate(-90 19.5 64)" class="m">Frequency (Hz)</text>
<text x="20" y="158.8" font-size="9.4" text-anchor="middle" fill="#1e1e1e" transform="rotate(-90 20 158.8)" class="m">Frequency (Hz)</text>
<text x="124.5" y="11.3" font-size="9.1" text-anchor="middle" fill="#1e1e1e" class="m">Elderly patients</text>
<text x="306.4" y="11.3" font-size="9.3" text-anchor="middle" fill="#1e1e1e" class="m">Young patients</text>
<text x="13.9" y="16.6" font-size="11" text-anchor="start" fill="#000" font-weight="bold">A</text>
<text x="13.9" y="112" font-size="11" text-anchor="start" fill="#000" font-weight="bold">C</text>
<text x="389.9" y="16.6" font-size="11" text-anchor="start" fill="#000" font-weight="bold">B</text>
<text x="389.2" y="114.4" font-size="11" text-anchor="start" fill="#000" font-weight="bold">D</text>
<rect x="303.3" y="223.8" width="79.3" height="9.2" fill="url(#cbg)" stroke="#222" stroke-width="0.6"/>
<text x="300.1" y="234.6" font-size="8.2" text-anchor="start" fill="#1e1e1e" transform="rotate(90 300.1 234.6)" class="m">−20</text>
<text x="319.93" y="234.6" font-size="8.2" text-anchor="start" fill="#1e1e1e" transform="rotate(90 319.93 234.6)" class="m">−10</text>
<text x="339.75" y="234.6" font-size="8.2" text-anchor="start" fill="#1e1e1e" transform="rotate(90 339.75 234.6)" class="m">0</text>
<text x="359.57" y="234.6" font-size="8.2" text-anchor="start" fill="#1e1e1e" transform="rotate(90 359.57 234.6)" class="m">10</text>
<text x="379.4" y="234.6" font-size="8.2" text-anchor="start" fill="#1e1e1e" transform="rotate(90 379.4 234.6)" class="m">20</text>
<text x="345.3" y="253.4" font-size="7.6" text-anchor="middle" fill="#1e1e1e" class="m">Power (dB)</text>
<rect x="42.4" y="229" width="11.6" height="5.6" fill="#6cb5f5"/>
<text x="59.6" y="234.5" font-size="7.3" text-anchor="start" fill="#333" class="m">Elderly</text>
<rect x="95" y="229" width="11.6" height="5.6" fill="#fbac3e"/>
<text x="113" y="234.5" font-size="7.3" text-anchor="start" fill="#333" class="m">Young</text>
<path d="M415.6,19.3 V99.2 H535.2" fill="none" stroke="#222" stroke-width="0.8"/>
<line x1="415.6" y1="19.6" x2="417.6" y2="19.6" stroke="#222" stroke-width="0.7"/>
<text x="413.2" y="22.9" font-size="9.2" text-anchor="end" fill="#1e1e1e" class="m">30</text>
<line x1="415.6" y1="32.9" x2="417.6" y2="32.9" stroke="#222" stroke-width="0.7"/>
<text x="413.2" y="36.2" font-size="9.2" text-anchor="end" fill="#1e1e1e" class="m">20</text>
<line x1="415.6" y1="46.2" x2="417.6" y2="46.2" stroke="#222" stroke-width="0.7"/>
<text x="413.2" y="49.5" font-size="9.2" text-anchor="end" fill="#1e1e1e" class="m">10</text>
<line x1="415.6" y1="59.5" x2="417.6" y2="59.5" stroke="#222" stroke-width="0.7"/>
<text x="413.2" y="62.8" font-size="9.2" text-anchor="end" fill="#1e1e1e" class="m">0</text>
<line x1="415.6" y1="72.8" x2="417.6" y2="72.8" stroke="#222" stroke-width="0.7"/>
<text x="413.2" y="76.1" font-size="9.2" text-anchor="end" fill="#1e1e1e" class="m">−10</text>
<line x1="415.6" y1="86.1" x2="417.6" y2="86.1" stroke="#222" stroke-width="0.7"/>
<text x="413.2" y="89.4" font-size="9.2" text-anchor="end" fill="#1e1e1e" class="m">−20</text>
<line x1="415.6" y1="99.4" x2="417.6" y2="99.4" stroke="#222" stroke-width="0.7"/>
<text x="413.2" y="102.7" font-size="9.2" text-anchor="end" fill="#1e1e1e" class="m">−30</text>
<line x1="439.52" y1="99.2" x2="439.52" y2="97.2" stroke="#222" stroke-width="0.7"/>
<line x1="463.44" y1="99.2" x2="463.44" y2="97.2" stroke="#222" stroke-width="0.7"/>
<line x1="487.36" y1="99.2" x2="487.36" y2="97.2" stroke="#222" stroke-width="0.7"/>
<line x1="511.28" y1="99.2" x2="511.28" y2="97.2" stroke="#222" stroke-width="0.7"/>
<line x1="535.2" y1="99.2" x2="535.2" y2="97.2" stroke="#222" stroke-width="0.7"/>
<path d="M415.6,51.4 L415.85,50.69 L416.22,49.66 L416.62,48.55 L417,47.6 L417.32,46.74 L417.63,45.89 L417.95,45.25 L418.3,45 L418.68,45.25 L419.07,45.88 L419.5,46.74 L420,47.7 L420.59,48.85 L421.26,50.21 L421.94,51.57 L422.6,52.7 L423.2,53.52 L423.77,54.15 L424.36,54.68 L425,55.2 L425.7,55.69 L426.43,54.93 L427.22,55.35 L428.1,55.8 L429.09,56.31 L430.17,56.86 L431.29,57.38 L432.4,57.8 L433.56,58.11 L434.76,58.36 L435.89,58.52 L436.8,58.6 L437.43,58.57 L437.86,58.43 L438.19,58.26 L438.5,58.1 L438.8,57.95 L439.04,57.79 L439.27,57.65 L439.5,57.6 L439.75,57.63 L440,58.93 L440.25,59.09 L440.5,59.3 L440.71,59.54 L440.88,59.82 L441.12,60.2 L441.5,60.7 L442.08,61.45 L442.81,62.39 L443.6,63.31 L444.4,64 L445.15,64.38 L445.89,64.58 L446.71,64.68 L447.7,64.8 L448.97,64.93 L450.45,65.01 L451.93,65.12 L453.2,63.3 L454.18,63.6 L454.97,63.98 L455.71,64.36 L456.5,64.7 L457.35,64.96 L458.21,65.19 L459.09,65.4 L460,65.6 L460.92,65.78 L461.84,65.94 L462.85,66.11 L464,66.3 L465.27,66.52 L466.62,66.75 L468.17,67.01 L470,67.3 L472.31,67.64 L475,68.02 L477.69,70.41 L480,70.8 L481.83,71.18 L483.38,71.56 L484.73,71.93 L486,72.3 L487,72.64 L487.75,72.96 L488.62,73.3 L490,73.7 L492.08,74.18 L494.62,74.71 L497.36,75.26 L500,75.8 L502.5,76.33 L505,76.86 L507.5,77.38 L510,77.9 L512.62,78.42 L515.31,78.93 L517.85,79.43 L520,79.9 L521.65,80.3 L522.94,80.64 L524.01,81.02 L525,81.5 L525.94,82.01 L526.75,82.55 L527.44,83.29 L528,84.4 L528.4,86.14 L528.66,88.33 L528.83,90.56 L529,92.4 L529.17,93.78 L529.31,94.9 L529.42,95.78 L529.5,96.4 L529.5,99.2 L529.42,99.2 L529.31,99.2 L529.17,98.38 L529,97 L528.83,95.16 L528.66,92.93 L528.4,90.74 L528,89 L527.44,87.89 L526.75,87.15 L525.94,86.61 L525,86.1 L524.01,85.62 L522.94,85.24 L521.65,84.9 L520,84.5 L517.85,84.03 L515.31,83.53 L512.62,83.02 L510,82.5 L507.5,81.98 L505,81.46 L502.5,80.93 L500,80.4 L497.36,79.86 L494.62,79.31 L492.08,78.78 L490,78.3 L488.62,77.9 L487.75,77.56 L487,77.24 L486,76.9 L484.73,76.53 L483.38,76.16 L481.83,75.78 L480,75.4 L477.69,75.01 L475,74.62 L472.31,74.24 L470,73.9 L468.17,73.61 L466.62,73.35 L465.27,73.12 L464,72.9 L462.85,72.71 L461.84,72.54 L460.92,72.38 L460,72.2 L459.09,72 L458.21,71.79 L457.35,71.56 L456.5,71.3 L455.71,70.96 L454.97,70.58 L454.18,70.2 L453.2,69.9 L451.93,69.72 L450.45,69.61 L448.97,69.53 L447.7,69.4 L446.71,69.28 L445.89,69.17 L445.15,68.98 L444.4,68.6 L443.6,67.91 L442.81,66.99 L442.08,66.05 L441.5,65.3 L441.12,64.8 L440.88,64.42 L440.71,64.14 L440.5,63.9 L440.25,63.69 L440,63.53 L439.75,63.43 L439.5,63.4 L439.27,63.45 L439.04,63.59 L438.8,63.75 L438.5,63.9 L438.19,64.06 L437.86,64.23 L437.43,64.37 L436.8,64.4 L435.89,64.32 L434.76,64.16 L433.56,63.91 L432.4,63.6 L431.29,63.18 L430.17,62.66 L429.09,62.11 L428.1,61.6 L427.22,61.15 L426.43,60.73 L425.7,60.29 L425,59.8 L424.36,59.28 L423.77,58.75 L423.2,58.12 L422.6,57.3 L421.94,56.17 L421.26,54.81 L420.59,53.45 L420,52.3 L419.5,51.34 L419.07,50.48 L418.68,49.85 L418.3,49.6 L417.95,49.85 L417.63,50.49 L417.32,51.34 L417,52.2 L416.62,53.15 L416.22,54.26 L415.85,55.29 L415.6,56 Z" fill="rgba(130,130,250,0.32)"/>
<path d="M415.6,51.9 L415.85,51.18 L416.22,50.14 L416.62,49.03 L417,48.1 L417.32,47.31 L417.63,46.57 L417.95,46.02 L418.3,45.8 L418.68,45.99 L419.07,46.51 L419.5,47.24 L420,48.1 L420.59,47.98 L421.26,49.29 L421.94,50.6 L422.6,51.7 L423.2,52.5 L423.77,53.14 L424.36,53.68 L425,54.2 L425.7,54.69 L426.43,55.12 L427.22,55.54 L428.1,56 L429.09,56.55 L430.17,57.16 L431.29,57.73 L432.4,58.2 L433.56,58.55 L434.76,58.83 L435.89,59.02 L436.8,59.04 L437.43,57.59 L437.86,56.46 L438.19,55.51 L438.5,54.6 L438.8,53.72 L439.04,52.92 L439.27,52.22 L439.5,51.6 L439.75,52.18 L440,52.84 L440.25,53.59 L440.5,54.4 L440.71,55.14 L440.88,55.87 L441.12,56.84 L441.5,58.3 L442.08,60.49 L442.81,61.94 L443.6,63.08 L444.4,64 L445.15,64.64 L445.89,65.12 L446.71,66.69 L447.7,67 L448.92,67.24 L450.32,67.39 L451.78,67.5 L453.2,67.6 L454.56,67.68 L455.91,67.74 L457.25,67.8 L458.6,67.9 L459.94,68.06 L461.26,68.26 L462.61,68.47 L464,68.7 L465.36,68.93 L466.71,69.18 L468.2,69.44 L470,69.7 L472.22,69.98 L474.75,70.27 L477.41,70.55 L480,70.8 L482.5,70.19 L485,70.34 L487.5,70.5 L490,70.7 L492.5,70.93 L495,71.19 L497.5,71.5 L500,72.7 L502.5,73.24 L505,73.87 L507.5,74.55 L510,75.2 L512.62,75.82 L515.31,76.45 L517.85,77.05 L520,77.6 L521.66,78.07 L522.98,78.49 L524.06,78.88 L525,79.3 L525.79,79.73 L526.39,80.15 L526.87,80.6 L527.3,81.1 L527.67,81.65 L527.94,82.24 L528.17,82.89 L528.4,83.6 L528.62,84.32 L528.82,85.05 L529.01,85.93 L529.2,87.1 L529.41,88.78 L529.62,90.83 L529.82,92.84 L530,94.4 L530.16,95.36 L530.3,95.96 L530.42,96.32 L530.5,96.6 L530.5,99.2 L530.42,99.2 L530.3,99.2 L530.16,99.2 L530,99 L529.82,97.44 L529.62,95.43 L529.41,93.38 L529.2,91.7 L529.01,90.53 L528.82,89.65 L528.62,88.92 L528.4,88.2 L528.17,87.49 L527.94,86.84 L527.67,86.25 L527.3,85.7 L526.87,85.2 L526.39,84.75 L525.79,84.33 L525,83.9 L524.06,83.48 L522.98,83.09 L521.66,82.67 L520,82.2 L517.85,81.65 L515.31,81.05 L512.62,80.42 L510,79.8 L507.5,79.15 L505,78.47 L502.5,77.84 L500,77.3 L497.5,76.9 L495,76.59 L492.5,76.33 L490,76.1 L487.5,75.9 L485,75.74 L482.5,75.59 L480,75.4 L477.41,75.15 L474.75,74.87 L472.22,74.58 L470,74.3 L468.2,74.04 L466.71,73.78 L465.36,73.53 L464,73.3 L462.61,73.07 L461.26,72.86 L459.94,72.66 L458.6,72.5 L457.25,72.4 L455.91,72.34 L454.56,72.28 L453.2,72.2 L451.78,72.1 L450.32,71.99 L448.92,71.84 L447.7,71.6 L446.71,71.29 L445.89,71.72 L445.15,71.24 L444.4,70.6 L443.6,69.68 L442.81,68.54 L442.08,67.41 L441.5,66.5 L441.12,65.88 L440.88,65.43 L440.71,65.09 L440.5,64.8 L440.25,64.54 L440,64.34 L439.75,64.23 L439.5,64.2 L439.27,64.3 L439.04,64.52 L438.8,64.77 L438.5,65 L438.19,65.22 L437.86,65.46 L437.43,65.64 L436.8,65.7 L435.89,65.62 L434.76,65.43 L433.56,65.15 L432.4,64.8 L431.29,64.33 L430.17,63.76 L429.09,63.15 L428.1,62.6 L427.22,62.14 L426.43,61.72 L425.7,61.29 L425,60.8 L424.36,60.28 L423.77,59.74 L423.2,59.1 L422.6,58.3 L421.94,57.2 L421.26,55.89 L420.59,54.58 L420,52.7 L419.5,51.84 L419.07,51.11 L418.68,50.59 L418.3,50.4 L417.95,50.62 L417.63,51.17 L417.32,51.91 L417,52.7 L416.62,53.63 L416.22,54.74 L415.85,55.78 L415.6,56.5 Z" fill="rgba(250,120,130,0.36)"/>
<path d="M415.6,54 L415.85,53.29 L416.22,52.26 L416.62,51.15 L417,50.2 L417.32,49.34 L417.63,48.49 L417.95,47.85 L418.3,47.6 L418.68,47.85 L419.07,48.48 L419.5,49.34 L420,50.3 L420.59,51.45 L421.26,52.81 L421.94,54.17 L422.6,55.3 L423.2,56.12 L423.77,56.75 L424.36,57.28 L425,57.8 L425.7,58.29 L426.43,58.73 L427.22,59.15 L428.1,59.6 L429.09,60.11 L430.17,60.66 L431.29,61.18 L432.4,61.6 L433.56,61.91 L434.76,62.16 L435.89,62.32 L436.8,62.4 L437.43,62.37 L437.86,62.23 L438.19,62.06 L438.5,61.9 L438.8,61.75 L439.04,61.59 L439.27,61.45 L439.5,61.4 L439.75,61.43 L440,61.53 L440.25,61.69 L440.5,61.9 L440.71,62.14 L440.88,62.42 L441.12,62.8 L441.5,63.3 L442.08,64.05 L442.81,64.99 L443.6,65.91 L444.4,66.6 L445.15,66.98 L445.89,67.17 L446.71,67.28 L447.7,67.4 L448.97,67.53 L450.45,67.61 L451.93,67.72 L453.2,67.9 L454.18,68.2 L454.97,68.58 L455.71,68.96 L456.5,69.3 L457.35,69.56 L458.21,69.79 L459.09,70 L460,70.2 L460.92,70.38 L461.84,70.54 L462.85,70.71 L464,70.9 L465.27,71.12 L466.62,71.35 L468.17,71.61 L470,71.9 L472.31,72.24 L475,72.62 L477.69,73.01 L480,73.4 L481.83,73.78 L483.38,74.16 L484.73,74.53 L486,74.9 L487,75.24 L487.75,75.56 L488.62,75.9 L490,76.3 L492.08,76.78 L494.62,77.31 L497.36,77.86 L500,78.4 L502.5,78.93 L505,79.46 L507.5,79.98 L510,80.5 L512.62,81.02 L515.31,81.53 L517.85,82.03 L520,82.5 L521.65,82.9 L522.94,83.24 L524.01,83.62 L525,84.1 L525.94,84.61 L526.75,85.15 L527.44,85.89 L528,87 L528.4,88.74 L528.66,90.93 L528.83,93.16 L529,95 L529.17,96.38 L529.31,97.5 L529.42,98.38 L529.5,99" fill="none" stroke="#22b2e4" stroke-width="1.3" stroke-linejoin="round"/>
<path d="M415.6,54.3 L415.85,53.58 L416.22,52.54 L416.62,51.43 L417,50.5 L417.32,49.71 L417.63,48.97 L417.95,48.42 L418.3,48.2 L418.68,48.39 L419.07,48.91 L419.5,49.64 L420,50.5 L420.59,51.58 L421.26,52.89 L421.94,54.2 L422.6,55.3 L423.2,56.1 L423.77,56.74 L424.36,57.28 L425,57.8 L425.7,58.29 L426.43,58.72 L427.22,59.14 L428.1,59.6 L429.09,60.15 L430.17,60.76 L431.29,61.33 L432.4,61.8 L433.56,62.15 L434.76,62.43 L435.89,62.62 L436.8,62.7 L437.43,62.64 L437.86,62.46 L438.19,62.22 L438.5,62 L438.8,61.77 L439.04,61.52 L439.27,61.3 L439.5,61.2 L439.75,61.23 L440,61.34 L440.25,61.54 L440.5,61.8 L440.71,62.09 L440.88,62.43 L441.12,62.88 L441.5,63.5 L442.08,64.41 L442.81,65.54 L443.6,66.68 L444.4,67.6 L445.15,68.24 L445.89,68.72 L446.71,69.09 L447.7,69.4 L448.92,69.64 L450.32,69.79 L451.78,69.9 L453.2,70 L454.56,70.08 L455.91,70.14 L457.25,70.2 L458.6,70.3 L459.94,70.46 L461.26,70.66 L462.61,70.87 L464,71.1 L465.36,71.33 L466.71,71.58 L468.2,71.84 L470,72.1 L472.22,72.38 L474.75,72.67 L477.41,72.95 L480,73.2 L482.5,73.39 L485,73.54 L487.5,73.7 L490,73.9 L492.5,74.13 L495,74.39 L497.5,74.7 L500,75.1 L502.5,75.64 L505,76.27 L507.5,76.95 L510,77.6 L512.62,78.22 L515.31,78.85 L517.85,79.45 L520,80 L521.66,80.47 L522.98,80.89 L524.06,81.28 L525,81.7 L525.79,82.13 L526.39,82.55 L526.87,83 L527.3,83.5 L527.67,84.05 L527.94,84.64 L528.17,85.29 L528.4,86 L528.62,86.72 L528.82,87.45 L529.01,88.33 L529.2,89.5 L529.41,91.18 L529.62,93.23 L529.82,95.24 L530,96.8 L530.16,97.76 L530.3,98.36 L530.42,98.72 L530.5,99" fill="none" stroke="#f8a44c" stroke-width="1.3" stroke-linejoin="round"/>
<text x="440.3" y="27" font-size="9.5" text-anchor="start" fill="#1e1e1e" class="m">Wake</text>
<line x1="492.9" y1="30" x2="503.9" y2="30" stroke="#22b2e4" stroke-width="1.3"/>
<line x1="492.9" y1="35.7" x2="503.9" y2="35.7" stroke="#f8a44c" stroke-width="1.3"/>
<text x="507.3" y="32.9" font-size="7.5" text-anchor="start" fill="#1e1e1e" class="m">Elderly</text>
<text x="507.3" y="39.2" font-size="7.5" text-anchor="start" fill="#1e1e1e" class="m">Young</text>
<path d="M415.6,114.3 V193.5 H535.2" fill="none" stroke="#222" stroke-width="0.8"/>
<line x1="415.6" y1="114.5" x2="417.6" y2="114.5" stroke="#222" stroke-width="0.7"/>
<text x="413.2" y="117.8" font-size="9.2" text-anchor="end" fill="#1e1e1e" class="m">30</text>
<line x1="415.6" y1="127.67" x2="417.6" y2="127.67" stroke="#222" stroke-width="0.7"/>
<text x="413.2" y="130.97" font-size="9.2" text-anchor="end" fill="#1e1e1e" class="m">20</text>
<line x1="415.6" y1="140.84" x2="417.6" y2="140.84" stroke="#222" stroke-width="0.7"/>
<text x="413.2" y="144.14" font-size="9.2" text-anchor="end" fill="#1e1e1e" class="m">10</text>
<line x1="415.6" y1="154.01" x2="417.6" y2="154.01" stroke="#222" stroke-width="0.7"/>
<text x="413.2" y="157.31" font-size="9.2" text-anchor="end" fill="#1e1e1e" class="m">0</text>
<line x1="415.6" y1="167.18" x2="417.6" y2="167.18" stroke="#222" stroke-width="0.7"/>
<text x="413.2" y="170.48" font-size="9.2" text-anchor="end" fill="#1e1e1e" class="m">−10</text>
<line x1="415.6" y1="180.35" x2="417.6" y2="180.35" stroke="#222" stroke-width="0.7"/>
<text x="413.2" y="183.65" font-size="9.2" text-anchor="end" fill="#1e1e1e" class="m">−20</text>
<line x1="415.6" y1="193.52" x2="417.6" y2="193.52" stroke="#222" stroke-width="0.7"/>
<text x="413.2" y="196.82" font-size="9.2" text-anchor="end" fill="#1e1e1e" class="m">−30</text>
<line x1="439.52" y1="193.5" x2="439.52" y2="191.5" stroke="#222" stroke-width="0.7"/>
<line x1="463.44" y1="193.5" x2="463.44" y2="191.5" stroke="#222" stroke-width="0.7"/>
<line x1="487.36" y1="193.5" x2="487.36" y2="191.5" stroke="#222" stroke-width="0.7"/>
<line x1="511.28" y1="193.5" x2="511.28" y2="191.5" stroke="#222" stroke-width="0.7"/>
<line x1="535.2" y1="193.5" x2="535.2" y2="191.5" stroke="#222" stroke-width="0.7"/>
<path d="M415.8,126.7 L416.2,127.51 L416.78,128.67 L417.42,129.99 L418,131.3 L418.49,132.61 L418.94,134 L419.4,135.36 L419.9,136.6 L420.43,137.69 L420.98,138.69 L421.57,139.59 L422.2,140.4 L422.86,141.09 L423.56,141.67 L424.32,142.19 L425.2,142.7 L426.27,143.24 L427.49,143.78 L428.72,144.25 L429.8,144.6 L430.68,144.82 L431.45,144.94 L432.17,144.97 L432.9,144.9 L433.65,144.69 L434.37,144.34 L435.12,143.98 L435.9,143.7 L436.78,143.5 L437.72,143.34 L438.63,143.26 L439.4,143.3 L439.98,143.47 L440.43,143.76 L440.83,144.14 L441.3,144.6 L441.81,145.19 L442.33,145.89 L442.91,146.62 L443.6,147.3 L444.44,147.9 L445.39,148.46 L446.4,149.02 L447.4,149.6 L448.35,150.21 L449.3,150.82 L450.3,151.46 L451.4,152.1 L452.65,152.76 L454.01,153.44 L455.41,154.12 L456.8,154.8 L458.19,155.48 L459.61,156.17 L460.99,156.85 L462.3,157.5 L463.49,158.08 L464.61,158.62 L465.69,159.17 L466.8,159.8 L467.95,160.54 L469.1,161.34 L470.25,162.18 L471.4,163 L472.42,163.8 L473.37,164.6 L474.45,165.4 L475.9,166.2 L477.84,167 L480.14,167.79 L482.59,168.59 L485,169.4 L487.44,170.25 L489.98,171.12 L492.4,171.96 L494.5,172.7 L496.17,173.32 L497.53,173.84 L498.75,174.32 L500,174.8 L501.26,175.27 L502.47,175.71 L503.7,176.14 L505,176.6 L506.42,177.06 L507.92,177.53 L509.43,178.02 L510.9,178.6 L512.34,179.25 L513.76,179.97 L515.13,180.75 L516.4,181.6 L517.55,182.58 L518.61,183.66 L519.59,184.74 L520.5,185.7 L521.34,186.49 L522.11,187.18 L522.82,187.83 L523.5,188.5 L524.2,189.27 L524.89,190.07 L525.48,190.8 L525.9,191.3 L525.9,193.5 L525.48,193.5 L524.89,193.5 L524.2,193.5 L523.5,192.8 L522.82,192.13 L522.11,191.48 L521.34,190.79 L520.5,190 L519.59,189.04 L518.61,187.96 L517.55,186.88 L516.4,185.9 L515.13,185.05 L513.76,184.27 L512.34,183.55 L510.9,182.9 L509.43,182.32 L507.92,181.83 L506.42,181.36 L505,180.9 L503.7,180.44 L502.47,180.01 L501.26,179.57 L500,179.1 L498.75,178.62 L497.53,178.14 L496.17,177.62 L494.5,177 L492.4,176.26 L489.98,175.42 L487.44,174.55 L485,173.7 L482.59,172.89 L480.14,172.09 L477.84,171.3 L475.9,170.5 L474.45,169.7 L473.37,168.9 L472.42,168.1 L471.4,167.3 L470.25,166.48 L469.1,167.84 L467.95,167.04 L466.8,166.3 L465.69,165.67 L464.61,165.12 L463.49,164.58 L462.3,164 L460.99,163.35 L459.61,162.67 L458.19,161.98 L456.8,161.3 L455.41,160.62 L454.01,159.94 L452.65,159.26 L451.4,158.6 L450.3,157.96 L449.3,157.32 L448.35,156.71 L447.4,156.1 L446.4,155.52 L445.39,154.96 L444.44,154.4 L443.6,153.8 L442.91,153.12 L442.33,152.39 L441.81,151.69 L441.3,151.1 L440.83,150.64 L440.43,150.26 L439.98,149.97 L439.4,149.8 L438.63,149.76 L437.72,149.84 L436.78,150 L435.9,150.2 L435.12,150.48 L434.37,150.84 L433.65,151.19 L432.9,151.4 L432.17,151.47 L431.45,151.44 L430.68,151.32 L429.8,151.1 L428.72,150.75 L427.49,150.28 L426.27,149.74 L425.2,149.2 L424.32,148.69 L423.56,148.17 L422.86,147.59 L422.2,146.9 L421.57,146.09 L420.98,145.19 L420.43,144.19 L419.9,143.1 L419.4,141.86 L418.94,138.3 L418.49,136.91 L418,135.6 L417.42,134.29 L416.78,132.97 L416.2,131.81 L415.8,131 Z" fill="rgba(130,130,250,0.32)"/>
<path d="M415.8,119.32 L416.25,120.1 L416.91,121.56 L417.63,123.21 L418.3,124.78 L418.87,126.24 L419.41,127.72 L419.97,129.19 L420.6,130.4 L421.3,131.45 L422.06,132.47 L422.86,133.43 L423.7,134.3 L424.58,135.08 L425.51,135.79 L426.48,136.41 L427.5,136.9 L428.63,137.27 L429.84,137.53 L431.04,137.68 L432.1,137.7 L432.98,137.6 L433.75,137.37 L434.47,137.03 L435.2,136.6 L435.98,136 L436.76,135.26 L437.52,134.51 L438.2,133.9 L438.79,133.41 L439.31,132.97 L439.8,132.7 L440.3,132.7 L440.79,133.02 L441.26,133.6 L441.75,134.35 L442.3,135.2 L442.95,136.21 L443.67,137.39 L444.4,138.58 L445.1,140.8 L445.72,141.6 L446.29,142.28 L446.89,142.89 L447.6,143.5 L448.42,144.08 L449.32,144.62 L450.31,145.17 L451.4,145.8 L452.64,146.56 L453.99,147.41 L455.41,148.25 L456.8,149 L458.19,149.62 L459.61,150.16 L460.99,150.67 L462.3,151.2 L463.51,151.76 L464.66,152.32 L465.75,152.89 L466.8,153.5 L467.78,154.12 L468.71,154.76 L469.6,155.45 L470.5,156.2 L471.39,157.09 L472.25,158.08 L473.14,159.06 L474.1,159.9 L475.12,160.54 L476.18,161.06 L477.32,161.54 L478.6,162.1 L479.99,162.71 L481.49,163.34 L483.14,164.05 L485,164.9 L487.25,166 L489.81,167.29 L492.33,168.56 L494.5,169.6 L496.17,170.34 L497.53,170.88 L498.75,171.34 L500,171.8 L501.26,172.28 L502.47,172.74 L503.7,173.17 L505,173.6 L506.42,173.97 L507.92,174.31 L509.43,174.69 L510.9,175.2 L512.35,175.9 L513.79,176.72 L515.17,177.61 L516.4,178.5 L517.44,179.36 L518.34,180.22 L519.17,181.13 L520,182.1 L520.85,183.21 L521.68,184.42 L522.47,185.59 L523.2,186.6 L523.85,187.4 L524.44,188.07 L524.98,188.63 L525.5,189.1 L525.85,189.46 L526.06,189.71 L526.45,189.88 L527.3,190 L528.99,190.06 L531.26,190.06 L533.48,190.02 L535,190 L535,193.5 L533.48,193.5 L531.26,193.5 L528.99,193.5 L527.3,193.5 L526.45,193.5 L526.06,193.5 L525.85,193.5 L525.5,193.5 L524.98,193.43 L524.44,192.88 L523.85,192.2 L523.2,191.4 L522.47,190.39 L521.68,189.22 L520.85,188.01 L520,186.9 L519.17,185.93 L518.34,185.03 L517.44,184.16 L516.4,183.3 L515.17,182.41 L513.79,181.52 L512.35,180.7 L510.9,180 L509.43,179.49 L507.92,179.11 L506.42,178.77 L505,178.4 L503.7,177.97 L502.47,177.54 L501.26,177.08 L500,176.6 L498.75,176.14 L497.53,175.68 L496.17,175.14 L494.5,174.4 L492.33,173.36 L489.81,172.09 L487.25,170.8 L485,169.7 L483.14,168.85 L481.49,168.14 L479.99,167.51 L478.6,166.9 L477.32,166.34 L476.18,165.86 L475.12,165.34 L474.1,164.7 L473.14,163.86 L472.25,162.88 L471.39,161.89 L470.5,161 L469.6,160.25 L468.71,159.56 L467.78,158.92 L466.8,158.3 L465.75,157.69 L464.66,157.12 L463.51,156.56 L462.3,156 L460.99,155.47 L459.61,154.96 L458.19,154.42 L456.8,153.8 L455.41,153.05 L453.99,152.21 L452.64,151.36 L451.4,150.6 L450.31,149.97 L449.32,149.42 L448.42,148.88 L447.6,148.3 L446.89,147.69 L446.29,147.08 L445.72,146.4 L445.1,145.6 L444.4,145.78 L443.67,144.59 L442.95,143.41 L442.3,142.4 L441.75,141.55 L441.26,140.8 L440.79,140.22 L440.3,139.9 L439.8,139.9 L439.31,140.17 L438.79,140.61 L438.2,141.1 L437.52,141.71 L436.76,142.46 L435.98,143.2 L435.2,143.8 L434.47,144.23 L433.75,144.57 L432.98,144.8 L432.1,144.9 L431.04,144.88 L429.84,144.73 L428.63,144.47 L427.5,144.1 L426.48,143.61 L425.51,142.99 L424.58,142.28 L423.7,141.5 L422.86,140.63 L422.06,139.67 L421.3,138.65 L420.6,137.6 L419.97,136.63 L419.41,135.82 L418.87,135 L418.3,134.22 L417.63,133.45 L416.91,132.67 L416.25,132 L415.8,131.28 Z" fill="rgba(250,120,130,0.36)"/>
<path d="M415.8,128.7 L416.2,129.51 L416.78,130.67 L417.42,131.99 L418,133.3 L418.49,134.61 L418.94,136 L419.4,137.36 L419.9,138.6 L420.43,139.69 L420.98,140.69 L421.57,141.59 L422.2,142.4 L422.86,143.09 L423.56,143.67 L424.32,144.19 L425.2,144.7 L426.27,145.24 L427.49,145.78 L428.72,146.25 L429.8,146.6 L430.68,146.82 L431.45,146.94 L432.17,146.97 L432.9,146.9 L433.65,146.69 L434.37,146.34 L435.12,145.98 L435.9,145.7 L436.78,145.5 L437.72,145.34 L438.63,145.26 L439.4,145.3 L439.98,145.47 L440.43,145.76 L440.83,146.14 L441.3,146.6 L441.81,147.19 L442.33,147.89 L442.91,148.62 L443.6,149.3 L444.44,149.9 L445.39,150.46 L446.4,151.02 L447.4,151.6 L448.35,152.21 L449.3,152.82 L450.3,153.46 L451.4,154.1 L452.65,154.76 L454.01,155.44 L455.41,156.12 L456.8,156.8 L458.19,157.48 L459.61,158.17 L460.99,158.85 L462.3,159.5 L463.49,160.08 L464.61,160.62 L465.69,161.17 L466.8,161.8 L467.95,162.54 L469.1,163.34 L470.25,164.18 L471.4,165 L472.42,165.8 L473.37,166.6 L474.45,167.4 L475.9,168.2 L477.84,169 L480.14,169.79 L482.59,170.59 L485,171.4 L487.44,172.25 L489.98,173.12 L492.4,173.96 L494.5,174.7 L496.17,175.32 L497.53,175.84 L498.75,176.32 L500,176.8 L501.26,177.27 L502.47,177.71 L503.7,178.14 L505,178.6 L506.42,179.06 L507.92,179.53 L509.43,180.02 L510.9,180.6 L512.34,181.25 L513.76,181.97 L515.13,182.75 L516.4,183.6 L517.55,184.58 L518.61,185.66 L519.59,186.74 L520.5,187.7 L521.34,188.49 L522.11,189.18 L522.82,189.83 L523.5,190.5 L524.2,191.27 L524.89,192.07 L525.48,192.8 L525.9,193.3" fill="none" stroke="#22b2e4" stroke-width="1.3" stroke-linejoin="round"/>
<path d="M415.8,125.3 L416.25,126.05 L416.91,127.12 L417.63,128.33 L418.3,129.5 L418.87,130.62 L419.41,131.77 L419.97,132.91 L420.6,134 L421.3,135.05 L422.06,136.07 L422.86,137.03 L423.7,137.9 L424.58,138.68 L425.51,139.39 L426.48,140.01 L427.5,140.5 L428.63,140.87 L429.84,141.13 L431.04,141.28 L432.1,141.3 L432.98,141.2 L433.75,140.97 L434.47,140.63 L435.2,140.2 L435.98,139.6 L436.76,138.86 L437.52,138.11 L438.2,137.5 L438.79,137.01 L439.31,136.57 L439.8,136.3 L440.3,136.3 L440.79,136.62 L441.26,137.2 L441.75,137.95 L442.3,138.8 L442.95,139.81 L443.67,140.99 L444.4,142.18 L445.1,143.2 L445.72,144 L446.29,144.68 L446.89,145.29 L447.6,145.9 L448.42,146.48 L449.32,147.02 L450.31,147.57 L451.4,148.2 L452.64,148.96 L453.99,149.81 L455.41,150.65 L456.8,151.4 L458.19,152.02 L459.61,152.56 L460.99,153.07 L462.3,153.6 L463.51,154.16 L464.66,154.72 L465.75,155.29 L466.8,155.9 L467.78,156.52 L468.71,157.16 L469.6,157.85 L470.5,158.6 L471.39,159.49 L472.25,160.48 L473.14,161.46 L474.1,162.3 L475.12,162.94 L476.18,163.46 L477.32,163.94 L478.6,164.5 L479.99,165.11 L481.49,165.74 L483.14,166.45 L485,167.3 L487.25,168.4 L489.81,169.69 L492.33,170.96 L494.5,172 L496.17,172.74 L497.53,173.28 L498.75,173.74 L500,174.2 L501.26,174.68 L502.47,175.14 L503.7,175.57 L505,176 L506.42,176.37 L507.92,176.71 L509.43,177.09 L510.9,177.6 L512.35,178.3 L513.79,179.12 L515.17,180.01 L516.4,180.9 L517.44,181.76 L518.34,182.62 L519.17,183.53 L520,184.5 L520.85,185.61 L521.68,186.82 L522.47,187.99 L523.2,189 L523.85,189.8 L524.44,190.47 L524.98,191.03 L525.5,191.5 L525.85,191.86 L526.06,192.11 L526.45,192.28 L527.3,192.4 L528.99,192.46 L531.26,192.46 L533.48,192.42 L535,192.4" fill="none" stroke="#f8a44c" stroke-width="1.3" stroke-linejoin="round"/>
<text x="426.8" y="121.3" font-size="9.5" text-anchor="start" fill="#1e1e1e" class="m">Maintenance</text>
<line x1="494.2" y1="128.6" x2="505.2" y2="128.6" stroke="#22b2e4" stroke-width="1.3"/>
<line x1="494.2" y1="134.3" x2="505.2" y2="134.3" stroke="#f8a44c" stroke-width="1.3"/>
<text x="508.6" y="131.5" font-size="7.5" text-anchor="start" fill="#1e1e1e" class="m">Elderly</text>
<text x="508.6" y="137.8" font-size="7.5" text-anchor="start" fill="#1e1e1e" class="m">Young</text>
<text x="415.6" y="206.2" font-size="9.5" text-anchor="middle" fill="#1e1e1e" class="m">0</text>
<text x="439.52" y="206.2" font-size="9.5" text-anchor="middle" fill="#1e1e1e" class="m">10</text>
<text x="463.44" y="206.2" font-size="9.5" text-anchor="middle" fill="#1e1e1e" class="m">20</text>
<text x="487.36" y="206.2" font-size="9.5" text-anchor="middle" fill="#1e1e1e" class="m">30</text>
<text x="511.28" y="206.2" font-size="9.5" text-anchor="middle" fill="#1e1e1e" class="m">40</text>
<text x="535.2" y="206.2" font-size="9.5" text-anchor="middle" fill="#1e1e1e" class="m">50</text>
<text x="473.8" y="217.1" font-size="9.5" text-anchor="middle" fill="#1e1e1e" class="m">Frequency (Hz)</text>
<text x="396.9" y="54.3" font-size="9.3" text-anchor="middle" fill="#1e1e1e" transform="rotate(-90 396.9 54.3)" class="m">Power (dB)</text>
<text x="393.8" y="150.1" font-size="9.3" text-anchor="middle" fill="#1e1e1e" transform="rotate(-90 393.8 150.1)" class="m">Power (dB)</text>
<rect x="48.1" y="321.9" width="13.3" height="42.5" fill="#6db6f6"/>
<rect x="68.4" y="321.4" width="13.3" height="43" fill="#fdbb78"/>
<rect x="102.7" y="299.4" width="13.3" height="65" fill="#6db6f6"/>
<rect x="123.1" y="291.9" width="13.3" height="72.5" fill="#fdbb78"/>
<path d="M54.75,326.42 V317.38 M52.75,317.38 h4 M52.75,326.42 h4" stroke="#111" stroke-width="1" fill="none"/>
<circle cx="54.75" cy="331.96" r="2.35" fill="none" stroke="#1a1a1a" stroke-width="0.8"/>
<circle cx="56.82" cy="329.22" r="2.35" fill="none" stroke="#1a1a1a" stroke-width="0.8"/>
<circle cx="52.68" cy="327.73" r="2.35" fill="none" stroke="#1a1a1a" stroke-width="0.8"/>
<circle cx="58.89" cy="326.59" r="2.35" fill="none" stroke="#1a1a1a" stroke-width="0.8"/>
<circle cx="48.54" cy="325.74" r="2.35" fill="none" stroke="#1a1a1a" stroke-width="0.8"/>
<circle cx="54.75" cy="325.06" r="2.35" fill="none" stroke="#1a1a1a" stroke-width="0.8"/>
<circle cx="52.53" cy="324.26" r="2.35" fill="none" stroke="#1a1a1a" stroke-width="0.8"/>
<circle cx="60.96" cy="323.4" r="2.35" fill="none" stroke="#1a1a1a" stroke-width="0.8"/>
<circle cx="50.35" cy="322.92" r="2.35" fill="none" stroke="#1a1a1a" stroke-width="0.8"/>
<circle cx="56.82" cy="322.33" r="2.35" fill="none" stroke="#1a1a1a" stroke-width="0.8"/>
<circle cx="56.65" cy="321.53" r="2.35" fill="none" stroke="#1a1a1a" stroke-width="0.8"/>
<circle cx="49.36" cy="321.11" r="2.35" fill="none" stroke="#1a1a1a" stroke-width="0.8"/>
<circle cx="52.68" cy="320.49" r="2.35" fill="none" stroke="#1a1a1a" stroke-width="0.8"/>
<circle cx="60.96" cy="319.74" r="2.35" fill="none" stroke="#1a1a1a" stroke-width="0.8"/>
<circle cx="55.2" cy="319.02" r="2.35" fill="none" stroke="#1a1a1a" stroke-width="0.8"/>
<circle cx="53.06" cy="318.35" r="2.35" fill="none" stroke="#1a1a1a" stroke-width="0.8"/>
<circle cx="48.54" cy="317.57" r="2.35" fill="none" stroke="#1a1a1a" stroke-width="0.8"/>
<circle cx="58.89" cy="316.64" r="2.35" fill="none" stroke="#1a1a1a" stroke-width="0.8"/>
<circle cx="54.75" cy="315.31" r="2.35" fill="none" stroke="#1a1a1a" stroke-width="0.8"/>
<circle cx="58.89" cy="312.9" r="2.35" fill="none" stroke="#1a1a1a" stroke-width="0.8"/>
<path d="M75.05,324.67 V318.13 M73.05,318.13 h4 M73.05,324.67 h4" stroke="#111" stroke-width="1" fill="none"/>
<circle cx="75.05" cy="329.35" r="2.35" fill="none" stroke="#1a1a1a" stroke-width="0.8"/>
<circle cx="79.19" cy="327.25" r="2.35" fill="none" stroke="#1a1a1a" stroke-width="0.8"/>
<circle cx="75.05" cy="326" r="2.35" fill="none" stroke="#1a1a1a" stroke-width="0.8"/>
<circle cx="70.91" cy="325.28" r="2.35" fill="none" stroke="#1a1a1a" stroke-width="0.8"/>
<circle cx="81.26" cy="324.57" r="2.35" fill="none" stroke="#1a1a1a" stroke-width="0.8"/>
<circle cx="69.48" cy="323.8" r="2.35" fill="none" stroke="#1a1a1a" stroke-width="0.8"/>
<circle cx="77.12" cy="323.25" r="2.35" fill="none" stroke="#1a1a1a" stroke-width="0.8"/>
<circle cx="75.14" cy="322.74" r="2.35" fill="none" stroke="#1a1a1a" stroke-width="0.8"/>
<circle cx="69.22" cy="322.11" r="2.35" fill="none" stroke="#1a1a1a" stroke-width="0.8"/>
<circle cx="74.21" cy="321.57" r="2.35" fill="none" stroke="#1a1a1a" stroke-width="0.8"/>
<circle cx="81.26" cy="321.15" r="2.35" fill="none" stroke="#1a1a1a" stroke-width="0.8"/>
<circle cx="69.63" cy="320.8" r="2.35" fill="none" stroke="#1a1a1a" stroke-width="0.8"/>
<circle cx="69.89" cy="320.53" r="2.35" fill="none" stroke="#1a1a1a" stroke-width="0.8"/>
<circle cx="74.1" cy="320.01" r="2.35" fill="none" stroke="#1a1a1a" stroke-width="0.8"/>
<circle cx="79.17" cy="319.72" r="2.35" fill="none" stroke="#1a1a1a" stroke-width="0.8"/>
<circle cx="70.31" cy="319.2" r="2.35" fill="none" stroke="#1a1a1a" stroke-width="0.8"/>
<circle cx="71.56" cy="318.59" r="2.35" fill="none" stroke="#1a1a1a" stroke-width="0.8"/>
<circle cx="76.66" cy="318.09" r="2.35" fill="none" stroke="#1a1a1a" stroke-width="0.8"/>
<circle cx="80.69" cy="317.25" r="2.35" fill="none" stroke="#1a1a1a" stroke-width="0.8"/>
<circle cx="68.84" cy="315.64" r="2.35" fill="none" stroke="#1a1a1a" stroke-width="0.8"/>
<path d="M109.35,306.07 V292.73 M107.35,292.73 h4 M107.35,306.07 h4" stroke="#111" stroke-width="1" fill="none"/>
<circle cx="109.35" cy="311.99" r="2.35" fill="none" stroke="#1a1a1a" stroke-width="0.8"/>
<circle cx="111.42" cy="308.86" r="2.35" fill="none" stroke="#1a1a1a" stroke-width="0.8"/>
<circle cx="107.28" cy="306.76" r="2.35" fill="none" stroke="#1a1a1a" stroke-width="0.8"/>
<circle cx="113.49" cy="305.58" r="2.35" fill="none" stroke="#1a1a1a" stroke-width="0.8"/>
<circle cx="103.14" cy="304.47" r="2.35" fill="none" stroke="#1a1a1a" stroke-width="0.8"/>
<circle cx="109.35" cy="303.73" r="2.35" fill="none" stroke="#1a1a1a" stroke-width="0.8"/>
<circle cx="115.56" cy="302.82" r="2.35" fill="none" stroke="#1a1a1a" stroke-width="0.8"/>
<circle cx="110.32" cy="301.91" r="2.35" fill="none" stroke="#1a1a1a" stroke-width="0.8"/>
<circle cx="105.21" cy="301.29" r="2.35" fill="none" stroke="#1a1a1a" stroke-width="0.8"/>
<circle cx="108.05" cy="300.55" r="2.35" fill="none" stroke="#1a1a1a" stroke-width="0.8"/>
<circle cx="113.49" cy="299.68" r="2.35" fill="none" stroke="#1a1a1a" stroke-width="0.8"/>
<circle cx="115.35" cy="298.86" r="2.35" fill="none" stroke="#1a1a1a" stroke-width="0.8"/>
<circle cx="103.14" cy="298.01" r="2.35" fill="none" stroke="#1a1a1a" stroke-width="0.8"/>
<circle cx="109.35" cy="297.3" r="2.35" fill="none" stroke="#1a1a1a" stroke-width="0.8"/>
<circle cx="103.64" cy="296.1" r="2.35" fill="none" stroke="#1a1a1a" stroke-width="0.8"/>
<circle cx="113.49" cy="295.3" r="2.35" fill="none" stroke="#1a1a1a" stroke-width="0.8"/>
<circle cx="107.28" cy="294.02" r="2.35" fill="none" stroke="#1a1a1a" stroke-width="0.8"/>
<circle cx="113.87" cy="293.12" r="2.35" fill="none" stroke="#1a1a1a" stroke-width="0.8"/>
<circle cx="103.14" cy="291.67" r="2.35" fill="none" stroke="#1a1a1a" stroke-width="0.8"/>
<circle cx="109.35" cy="290.16" r="2.35" fill="none" stroke="#1a1a1a" stroke-width="0.8"/>
<circle cx="113.49" cy="287.79" r="2.35" fill="none" stroke="#1a1a1a" stroke-width="0.8"/>
<circle cx="109.35" cy="283.87" r="2.35" fill="none" stroke="#1a1a1a" stroke-width="0.8"/>
<path d="M129.75,295.47 V288.33 M127.75,288.33 h4 M127.75,295.47 h4" stroke="#111" stroke-width="1" fill="none"/>
<circle cx="129.75" cy="299.5" r="2.35" fill="none" stroke="#1a1a1a" stroke-width="0.8"/>
<circle cx="133.89" cy="297.57" r="2.35" fill="none" stroke="#1a1a1a" stroke-width="0.8"/>
<circle cx="127.68" cy="296.39" r="2.35" fill="none" stroke="#1a1a1a" stroke-width="0.8"/>
<circle cx="123.54" cy="295.64" r="2.35" fill="none" stroke="#1a1a1a" stroke-width="0.8"/>
<circle cx="127.1" cy="295.01" r="2.35" fill="none" stroke="#1a1a1a" stroke-width="0.8"/>
<circle cx="131.82" cy="294.49" r="2.35" fill="none" stroke="#1a1a1a" stroke-width="0.8"/>
<circle cx="135.96" cy="293.99" r="2.35" fill="none" stroke="#1a1a1a" stroke-width="0.8"/>
<circle cx="125.27" cy="293.4" r="2.35" fill="none" stroke="#1a1a1a" stroke-width="0.8"/>
<circle cx="124.93" cy="292.96" r="2.35" fill="none" stroke="#1a1a1a" stroke-width="0.8"/>
<circle cx="127.34" cy="292.48" r="2.35" fill="none" stroke="#1a1a1a" stroke-width="0.8"/>
<circle cx="133.73" cy="292.05" r="2.35" fill="none" stroke="#1a1a1a" stroke-width="0.8"/>
<circle cx="125.73" cy="291.75" r="2.35" fill="none" stroke="#1a1a1a" stroke-width="0.8"/>
<circle cx="130.78" cy="291.16" r="2.35" fill="none" stroke="#1a1a1a" stroke-width="0.8"/>
<circle cx="131.5" cy="290.77" r="2.35" fill="none" stroke="#1a1a1a" stroke-width="0.8"/>
<circle cx="128.14" cy="290.26" r="2.35" fill="none" stroke="#1a1a1a" stroke-width="0.8"/>
<circle cx="130.35" cy="289.84" r="2.35" fill="none" stroke="#1a1a1a" stroke-width="0.8"/>
<circle cx="135.96" cy="289.37" r="2.35" fill="none" stroke="#1a1a1a" stroke-width="0.8"/>
<circle cx="123.54" cy="288.73" r="2.35" fill="none" stroke="#1a1a1a" stroke-width="0.8"/>
<circle cx="124.24" cy="288.06" r="2.35" fill="none" stroke="#1a1a1a" stroke-width="0.8"/>
<circle cx="124.2" cy="287.33" r="2.35" fill="none" stroke="#1a1a1a" stroke-width="0.8"/>
<circle cx="129.75" cy="286.3" r="2.35" fill="none" stroke="#1a1a1a" stroke-width="0.8"/>
<circle cx="133.89" cy="284.41" r="2.35" fill="none" stroke="#1a1a1a" stroke-width="0.8"/>
<path d="M40.7,264.1 V364.4 H143.7" fill="none" stroke="#5a5a5a" stroke-width="1"/>
<line x1="37.1" y1="364.4" x2="40.7" y2="364.4" stroke="#5a5a5a" stroke-width="1"/>
<text x="35.2" y="367.3" font-size="9.4" text-anchor="end" fill="#141414">0</text>
<line x1="37.1" y1="339.4" x2="40.7" y2="339.4" stroke="#5a5a5a" stroke-width="1"/>
<text x="35.2" y="342.3" font-size="9.4" text-anchor="end" fill="#141414">10</text>
<line x1="37.1" y1="314.4" x2="40.7" y2="314.4" stroke="#5a5a5a" stroke-width="1"/>
<text x="35.2" y="317.3" font-size="9.4" text-anchor="end" fill="#141414">20</text>
<line x1="37.1" y1="289.4" x2="40.7" y2="289.4" stroke="#5a5a5a" stroke-width="1"/>
<text x="35.2" y="292.3" font-size="9.4" text-anchor="end" fill="#141414">30</text>
<line x1="37.1" y1="264.4" x2="40.7" y2="264.4" stroke="#5a5a5a" stroke-width="1"/>
<text x="35.2" y="267.3" font-size="9.4" text-anchor="end" fill="#141414">40</text>
<line x1="64.8" y1="361.1" x2="64.8" y2="364.4" stroke="#5a5a5a" stroke-width="1"/>
<line x1="119.4" y1="361.1" x2="119.4" y2="364.4" stroke="#5a5a5a" stroke-width="1"/>
<text x="65.3" y="375.8" font-size="9.5" text-anchor="middle" fill="#141414">Wake</text>
<text x="120.1" y="375.8" font-size="9.5" text-anchor="middle" fill="#141414">Maintenance</text>
<text x="19.8" y="313.4" font-size="9.4" text-anchor="middle" fill="#141414" transform="rotate(-90 19.8 313.4)">Total Power(dB)</text>
<line x1="77.4" y1="269.3" x2="132.1" y2="269.3" stroke="#777" stroke-width="0.9"/>
<circle cx="99" cy="267" r="1.15" fill="#111"/>
<circle cx="102.4" cy="267" r="1.15" fill="#111"/>
<circle cx="105.8" cy="267" r="1.15" fill="#111"/>
<line x1="55.7" y1="278.5" x2="106.7" y2="278.5" stroke="#777" stroke-width="0.9"/>
<circle cx="76.6" cy="276.2" r="1.15" fill="#111"/>
<circle cx="80" cy="276.2" r="1.15" fill="#111"/>
<circle cx="83.4" cy="276.2" r="1.15" fill="#111"/>
<line x1="110.5" y1="278.5" x2="130.8" y2="278.5" stroke="#777" stroke-width="0.9"/>
<circle cx="117.5" cy="276.2" r="1.15" fill="#111"/>
<circle cx="120.9" cy="276.2" r="1.15" fill="#111"/>
<rect x="177.8" y="328.18" width="13.3" height="36.32" fill="#6db6f6"/>
<rect x="198.1" y="327.93" width="13.3" height="36.57" fill="#fdbb78"/>
<rect x="232.4" y="306.88" width="13.3" height="57.62" fill="#6db6f6"/>
<rect x="252.8" y="298.62" width="13.3" height="65.88" fill="#fdbb78"/>
<path d="M184.45,333.55 V322.81 M182.45,322.81 h4 M182.45,333.55 h4" stroke="#111" stroke-width="1" fill="none"/>
<circle cx="184.45" cy="340.54" r="2.35" fill="none" stroke="#1a1a1a" stroke-width="0.8"/>
<circle cx="186.52" cy="337.21" r="2.35" fill="none" stroke="#1a1a1a" stroke-width="0.8"/>
<circle cx="182.38" cy="335.65" r="2.35" fill="none" stroke="#1a1a1a" stroke-width="0.8"/>
<circle cx="188.59" cy="334.05" r="2.35" fill="none" stroke="#1a1a1a" stroke-width="0.8"/>
<circle cx="184.45" cy="332.95" r="2.35" fill="none" stroke="#1a1a1a" stroke-width="0.8"/>
<circle cx="180.31" cy="332.09" r="2.35" fill="none" stroke="#1a1a1a" stroke-width="0.8"/>
<circle cx="190.66" cy="331.19" r="2.35" fill="none" stroke="#1a1a1a" stroke-width="0.8"/>
<circle cx="186.52" cy="330.21" r="2.35" fill="none" stroke="#1a1a1a" stroke-width="0.8"/>
<circle cx="180.75" cy="329.55" r="2.35" fill="none" stroke="#1a1a1a" stroke-width="0.8"/>
<circle cx="186.72" cy="328.57" r="2.35" fill="none" stroke="#1a1a1a" stroke-width="0.8"/>
<circle cx="190.66" cy="327.72" r="2.35" fill="none" stroke="#1a1a1a" stroke-width="0.8"/>
<circle cx="183.54" cy="327.37" r="2.35" fill="none" stroke="#1a1a1a" stroke-width="0.8"/>
<circle cx="178.24" cy="326.71" r="2.35" fill="none" stroke="#1a1a1a" stroke-width="0.8"/>
<circle cx="182.11" cy="325.91" r="2.35" fill="none" stroke="#1a1a1a" stroke-width="0.8"/>
<circle cx="186.52" cy="325.05" r="2.35" fill="none" stroke="#1a1a1a" stroke-width="0.8"/>
<circle cx="190.66" cy="324.2" r="2.35" fill="none" stroke="#1a1a1a" stroke-width="0.8"/>
<circle cx="185.53" cy="323.47" r="2.35" fill="none" stroke="#1a1a1a" stroke-width="0.8"/>
<circle cx="182.38" cy="322.26" r="2.35" fill="none" stroke="#1a1a1a" stroke-width="0.8"/>
<circle cx="188.59" cy="320.66" r="2.35" fill="none" stroke="#1a1a1a" stroke-width="0.8"/>
<circle cx="184.45" cy="318.22" r="2.35" fill="none" stroke="#1a1a1a" stroke-width="0.8"/>
<path d="M204.75,332.1 V323.75 M202.75,323.75 h4 M202.75,332.1 h4" stroke="#111" stroke-width="1" fill="none"/>
<circle cx="204.75" cy="338.07" r="2.35" fill="none" stroke="#1a1a1a" stroke-width="0.8"/>
<circle cx="206.82" cy="335.36" r="2.35" fill="none" stroke="#1a1a1a" stroke-width="0.8"/>
<circle cx="202.68" cy="333.9" r="2.35" fill="none" stroke="#1a1a1a" stroke-width="0.8"/>
<circle cx="210.96" cy="332.89" r="2.35" fill="none" stroke="#1a1a1a" stroke-width="0.8"/>
<circle cx="206.82" cy="331.76" r="2.35" fill="none" stroke="#1a1a1a" stroke-width="0.8"/>
<circle cx="200.61" cy="331.08" r="2.35" fill="none" stroke="#1a1a1a" stroke-width="0.8"/>
<circle cx="204.16" cy="330.26" r="2.35" fill="none" stroke="#1a1a1a" stroke-width="0.8"/>
<circle cx="202.23" cy="329.61" r="2.35" fill="none" stroke="#1a1a1a" stroke-width="0.8"/>
<circle cx="208.89" cy="328.97" r="2.35" fill="none" stroke="#1a1a1a" stroke-width="0.8"/>
<circle cx="198.54" cy="328.13" r="2.35" fill="none" stroke="#1a1a1a" stroke-width="0.8"/>
<circle cx="208.46" cy="327.76" r="2.35" fill="none" stroke="#1a1a1a" stroke-width="0.8"/>
<circle cx="207.26" cy="327.12" r="2.35" fill="none" stroke="#1a1a1a" stroke-width="0.8"/>
<circle cx="201.53" cy="326.67" r="2.35" fill="none" stroke="#1a1a1a" stroke-width="0.8"/>
<circle cx="205.69" cy="326.12" r="2.35" fill="none" stroke="#1a1a1a" stroke-width="0.8"/>
<circle cx="205.07" cy="325.62" r="2.35" fill="none" stroke="#1a1a1a" stroke-width="0.8"/>
<circle cx="210.96" cy="325" r="2.35" fill="none" stroke="#1a1a1a" stroke-width="0.8"/>
<circle cx="198.54" cy="324.58" r="2.35" fill="none" stroke="#1a1a1a" stroke-width="0.8"/>
<circle cx="209.48" cy="323.59" r="2.35" fill="none" stroke="#1a1a1a" stroke-width="0.8"/>
<circle cx="202.68" cy="322.47" r="2.35" fill="none" stroke="#1a1a1a" stroke-width="0.8"/>
<circle cx="206.82" cy="320.72" r="2.35" fill="none" stroke="#1a1a1a" stroke-width="0.8"/>
<path d="M239.05,314.52 V299.25 M237.05,299.25 h4 M237.05,314.52 h4" stroke="#111" stroke-width="1" fill="none"/>
<circle cx="239.05" cy="321.84" r="2.35" fill="none" stroke="#1a1a1a" stroke-width="0.8"/>
<circle cx="239.05" cy="317.92" r="2.35" fill="none" stroke="#1a1a1a" stroke-width="0.8"/>
<circle cx="243.19" cy="315.98" r="2.35" fill="none" stroke="#1a1a1a" stroke-width="0.8"/>
<circle cx="239.05" cy="314.3" r="2.35" fill="none" stroke="#1a1a1a" stroke-width="0.8"/>
<circle cx="234.91" cy="313.3" r="2.35" fill="none" stroke="#1a1a1a" stroke-width="0.8"/>
<circle cx="243.19" cy="312.15" r="2.35" fill="none" stroke="#1a1a1a" stroke-width="0.8"/>
<circle cx="241.94" cy="310.98" r="2.35" fill="none" stroke="#1a1a1a" stroke-width="0.8"/>
<circle cx="236.98" cy="309.76" r="2.35" fill="none" stroke="#1a1a1a" stroke-width="0.8"/>
<circle cx="245.26" cy="309.11" r="2.35" fill="none" stroke="#1a1a1a" stroke-width="0.8"/>
<circle cx="232.84" cy="308.08" r="2.35" fill="none" stroke="#1a1a1a" stroke-width="0.8"/>
<circle cx="241.12" cy="307.18" r="2.35" fill="none" stroke="#1a1a1a" stroke-width="0.8"/>
<circle cx="236.98" cy="306.39" r="2.35" fill="none" stroke="#1a1a1a" stroke-width="0.8"/>
<circle cx="245.26" cy="305.31" r="2.35" fill="none" stroke="#1a1a1a" stroke-width="0.8"/>
<circle cx="232.84" cy="304.49" r="2.35" fill="none" stroke="#1a1a1a" stroke-width="0.8"/>
<circle cx="239.05" cy="303.53" r="2.35" fill="none" stroke="#1a1a1a" stroke-width="0.8"/>
<circle cx="243.19" cy="302.11" r="2.35" fill="none" stroke="#1a1a1a" stroke-width="0.8"/>
<circle cx="234.91" cy="301.05" r="2.35" fill="none" stroke="#1a1a1a" stroke-width="0.8"/>
<circle cx="239.05" cy="300.04" r="2.35" fill="none" stroke="#1a1a1a" stroke-width="0.8"/>
<circle cx="243.19" cy="298.56" r="2.35" fill="none" stroke="#1a1a1a" stroke-width="0.8"/>
<circle cx="239.05" cy="296.44" r="2.35" fill="none" stroke="#1a1a1a" stroke-width="0.8"/>
<circle cx="243.19" cy="293.99" r="2.35" fill="none" stroke="#1a1a1a" stroke-width="0.8"/>
<circle cx="239.05" cy="289.93" r="2.35" fill="none" stroke="#1a1a1a" stroke-width="0.8"/>
<path d="M259.45,303.99 V293.25 M257.45,293.25 h4 M257.45,303.99 h4" stroke="#111" stroke-width="1" fill="none"/>
<circle cx="259.45" cy="312.03" r="2.35" fill="none" stroke="#1a1a1a" stroke-width="0.8"/>
<circle cx="259.45" cy="308.52" r="2.35" fill="none" stroke="#1a1a1a" stroke-width="0.8"/>
<circle cx="263.59" cy="306.72" r="2.35" fill="none" stroke="#1a1a1a" stroke-width="0.8"/>
<circle cx="259.45" cy="305.13" r="2.35" fill="none" stroke="#1a1a1a" stroke-width="0.8"/>
<circle cx="255.31" cy="303.95" r="2.35" fill="none" stroke="#1a1a1a" stroke-width="0.8"/>
<circle cx="263.59" cy="303.04" r="2.35" fill="none" stroke="#1a1a1a" stroke-width="0.8"/>
<circle cx="256.78" cy="302.08" r="2.35" fill="none" stroke="#1a1a1a" stroke-width="0.8"/>
<circle cx="265.5" cy="301.49" r="2.35" fill="none" stroke="#1a1a1a" stroke-width="0.8"/>
<circle cx="253.24" cy="300.51" r="2.35" fill="none" stroke="#1a1a1a" stroke-width="0.8"/>
<circle cx="259.45" cy="299.64" r="2.35" fill="none" stroke="#1a1a1a" stroke-width="0.8"/>
<circle cx="254.64" cy="298.95" r="2.35" fill="none" stroke="#1a1a1a" stroke-width="0.8"/>
<circle cx="263.59" cy="298.5" r="2.35" fill="none" stroke="#1a1a1a" stroke-width="0.8"/>
<circle cx="258.42" cy="297.71" r="2.35" fill="none" stroke="#1a1a1a" stroke-width="0.8"/>
<circle cx="262.69" cy="297.35" r="2.35" fill="none" stroke="#1a1a1a" stroke-width="0.8"/>
<circle cx="255.07" cy="296.77" r="2.35" fill="none" stroke="#1a1a1a" stroke-width="0.8"/>
<circle cx="259.31" cy="296" r="2.35" fill="none" stroke="#1a1a1a" stroke-width="0.8"/>
<circle cx="265.66" cy="295.38" r="2.35" fill="none" stroke="#1a1a1a" stroke-width="0.8"/>
<circle cx="253.64" cy="294.81" r="2.35" fill="none" stroke="#1a1a1a" stroke-width="0.8"/>
<circle cx="261.57" cy="293.9" r="2.35" fill="none" stroke="#1a1a1a" stroke-width="0.8"/>
<circle cx="257.38" cy="293.14" r="2.35" fill="none" stroke="#1a1a1a" stroke-width="0.8"/>
<circle cx="265.66" cy="291.78" r="2.35" fill="none" stroke="#1a1a1a" stroke-width="0.8"/>
<circle cx="259.45" cy="289.23" r="2.35" fill="none" stroke="#1a1a1a" stroke-width="0.8"/>
<path d="M170.4,264 V364.5 H273.4" fill="none" stroke="#5a5a5a" stroke-width="1"/>
<line x1="166.8" y1="364.5" x2="170.4" y2="364.5" stroke="#5a5a5a" stroke-width="1"/>
<text x="164.9" y="367.4" font-size="9.4" text-anchor="end" fill="#141414">0</text>
<line x1="166.8" y1="339.45" x2="170.4" y2="339.45" stroke="#5a5a5a" stroke-width="1"/>
<text x="164.9" y="342.35" font-size="9.4" text-anchor="end" fill="#141414">10</text>
<line x1="166.8" y1="314.4" x2="170.4" y2="314.4" stroke="#5a5a5a" stroke-width="1"/>
<text x="164.9" y="317.3" font-size="9.4" text-anchor="end" fill="#141414">20</text>
<line x1="166.8" y1="289.35" x2="170.4" y2="289.35" stroke="#5a5a5a" stroke-width="1"/>
<text x="164.9" y="292.25" font-size="9.4" text-anchor="end" fill="#141414">30</text>
<line x1="166.8" y1="264.3" x2="170.4" y2="264.3" stroke="#5a5a5a" stroke-width="1"/>
<text x="164.9" y="267.2" font-size="9.4" text-anchor="end" fill="#141414">40</text>
<line x1="194.5" y1="361.2" x2="194.5" y2="364.5" stroke="#5a5a5a" stroke-width="1"/>
<line x1="249.1" y1="361.2" x2="249.1" y2="364.5" stroke="#5a5a5a" stroke-width="1"/>
<text x="195" y="375.9" font-size="9.5" text-anchor="middle" fill="#141414">Wake</text>
<text x="249.8" y="375.9" font-size="9.5" text-anchor="middle" fill="#141414">Maintenance</text>
<text x="150.1" y="315.3" font-size="9.4" text-anchor="middle" fill="#141414" transform="rotate(-90 150.1 315.3)">Delta(dB)</text>
<line x1="204.2" y1="273.9" x2="257.6" y2="273.9" stroke="#777" stroke-width="0.9"/>
<circle cx="227.6" cy="271.2" r="1.15" fill="#111"/>
<circle cx="231" cy="271.2" r="1.15" fill="#111"/>
<circle cx="234.4" cy="271.2" r="1.15" fill="#111"/>
<line x1="183.7" y1="283.4" x2="243" y2="283.4" stroke="#777" stroke-width="0.9"/>
<circle cx="207.1" cy="280.9" r="1.15" fill="#111"/>
<circle cx="210.5" cy="280.9" r="1.15" fill="#111"/>
<circle cx="213.9" cy="280.9" r="1.15" fill="#111"/>
<line x1="240" y1="283.4" x2="259" y2="283.4" stroke="#777" stroke-width="0.9"/>
<circle cx="247.4" cy="280.6" r="1.15" fill="#111"/>
<rect x="307.7" y="335.71" width="13.3" height="27.69" fill="#6db6f6"/>
<rect x="328" y="340.04" width="13.3" height="23.36" fill="#fdbb78"/>
<rect x="362.3" y="313.35" width="13.3" height="50.05" fill="#6db6f6"/>
<rect x="382.7" y="302.34" width="13.3" height="61.06" fill="#fdbb78"/>
<path d="M314.35,343.25 V328.16 M312.35,328.16 h4 M312.35,343.25 h4" stroke="#111" stroke-width="1" fill="none"/>
<circle cx="314.35" cy="353.24" r="2.35" fill="none" stroke="#1a1a1a" stroke-width="0.8"/>
<circle cx="314.35" cy="348.7" r="2.35" fill="none" stroke="#1a1a1a" stroke-width="0.8"/>
<circle cx="318.49" cy="346.11" r="2.35" fill="none" stroke="#1a1a1a" stroke-width="0.8"/>
<circle cx="314.35" cy="344.13" r="2.35" fill="none" stroke="#1a1a1a" stroke-width="0.8"/>
<circle cx="318.49" cy="342.55" r="2.35" fill="none" stroke="#1a1a1a" stroke-width="0.8"/>
<circle cx="312.28" cy="341.2" r="2.35" fill="none" stroke="#1a1a1a" stroke-width="0.8"/>
<circle cx="308.14" cy="340" r="2.35" fill="none" stroke="#1a1a1a" stroke-width="0.8"/>
<circle cx="316.42" cy="338.79" r="2.35" fill="none" stroke="#1a1a1a" stroke-width="0.8"/>
<circle cx="312.28" cy="337.51" r="2.35" fill="none" stroke="#1a1a1a" stroke-width="0.8"/>
<circle cx="320.56" cy="336.39" r="2.35" fill="none" stroke="#1a1a1a" stroke-width="0.8"/>
<circle cx="316.42" cy="335.2" r="2.35" fill="none" stroke="#1a1a1a" stroke-width="0.8"/>
<circle cx="310.21" cy="334.44" r="2.35" fill="none" stroke="#1a1a1a" stroke-width="0.8"/>
<circle cx="317.68" cy="333.48" r="2.35" fill="none" stroke="#1a1a1a" stroke-width="0.8"/>
<circle cx="314.35" cy="332.32" r="2.35" fill="none" stroke="#1a1a1a" stroke-width="0.8"/>
<circle cx="320.56" cy="331.37" r="2.35" fill="none" stroke="#1a1a1a" stroke-width="0.8"/>
<circle cx="310.21" cy="330.46" r="2.35" fill="none" stroke="#1a1a1a" stroke-width="0.8"/>
<circle cx="314.35" cy="328.85" r="2.35" fill="none" stroke="#1a1a1a" stroke-width="0.8"/>
<circle cx="318.49" cy="327.55" r="2.35" fill="none" stroke="#1a1a1a" stroke-width="0.8"/>
<circle cx="312.28" cy="325.58" r="2.35" fill="none" stroke="#1a1a1a" stroke-width="0.8"/>
<circle cx="314.35" cy="321.57" r="2.35" fill="none" stroke="#1a1a1a" stroke-width="0.8"/>
<path d="M334.65,345.21 V334.88 M332.65,334.88 h4 M332.65,345.21 h4" stroke="#111" stroke-width="1" fill="none"/>
<circle cx="334.65" cy="351.64" r="2.35" fill="none" stroke="#1a1a1a" stroke-width="0.8"/>
<circle cx="336.72" cy="348.73" r="2.35" fill="none" stroke="#1a1a1a" stroke-width="0.8"/>
<circle cx="332.58" cy="346.82" r="2.35" fill="none" stroke="#1a1a1a" stroke-width="0.8"/>
<circle cx="338.79" cy="345.49" r="2.35" fill="none" stroke="#1a1a1a" stroke-width="0.8"/>
<circle cx="328.44" cy="344.56" r="2.35" fill="none" stroke="#1a1a1a" stroke-width="0.8"/>
<circle cx="334.65" cy="343.74" r="2.35" fill="none" stroke="#1a1a1a" stroke-width="0.8"/>
<circle cx="335.57" cy="342.9" r="2.35" fill="none" stroke="#1a1a1a" stroke-width="0.8"/>
<circle cx="338.79" cy="341.91" r="2.35" fill="none" stroke="#1a1a1a" stroke-width="0.8"/>
<circle cx="330.51" cy="341.19" r="2.35" fill="none" stroke="#1a1a1a" stroke-width="0.8"/>
<circle cx="339.38" cy="340.38" r="2.35" fill="none" stroke="#1a1a1a" stroke-width="0.8"/>
<circle cx="332.3" cy="339.79" r="2.35" fill="none" stroke="#1a1a1a" stroke-width="0.8"/>
<circle cx="337.11" cy="339.14" r="2.35" fill="none" stroke="#1a1a1a" stroke-width="0.8"/>
<circle cx="328.44" cy="338.25" r="2.35" fill="none" stroke="#1a1a1a" stroke-width="0.8"/>
<circle cx="335.84" cy="337.63" r="2.35" fill="none" stroke="#1a1a1a" stroke-width="0.8"/>
<circle cx="340.86" cy="337.07" r="2.35" fill="none" stroke="#1a1a1a" stroke-width="0.8"/>
<circle cx="332.58" cy="336.08" r="2.35" fill="none" stroke="#1a1a1a" stroke-width="0.8"/>
<circle cx="335.66" cy="335.27" r="2.35" fill="none" stroke="#1a1a1a" stroke-width="0.8"/>
<circle cx="328.44" cy="334.18" r="2.35" fill="none" stroke="#1a1a1a" stroke-width="0.8"/>
<circle cx="332.58" cy="332.6" r="2.35" fill="none" stroke="#1a1a1a" stroke-width="0.8"/>
<circle cx="334.65" cy="329.91" r="2.35" fill="none" stroke="#1a1a1a" stroke-width="0.8"/>
<path d="M368.95,323.68 V303.02 M366.95,303.02 h4 M366.95,323.68 h4" stroke="#111" stroke-width="1" fill="none"/>
<circle cx="368.95" cy="334.98" r="2.35" fill="none" stroke="#1a1a1a" stroke-width="0.8"/>
<circle cx="368.95" cy="329.45" r="2.35" fill="none" stroke="#1a1a1a" stroke-width="0.8"/>
<circle cx="371.02" cy="326.5" r="2.35" fill="none" stroke="#1a1a1a" stroke-width="0.8"/>
<circle cx="366.88" cy="324.02" r="2.35" fill="none" stroke="#1a1a1a" stroke-width="0.8"/>
<circle cx="371.02" cy="322.44" r="2.35" fill="none" stroke="#1a1a1a" stroke-width="0.8"/>
<circle cx="364.81" cy="320.94" r="2.35" fill="none" stroke="#1a1a1a" stroke-width="0.8"/>
<circle cx="368.95" cy="319.42" r="2.35" fill="none" stroke="#1a1a1a" stroke-width="0.8"/>
<circle cx="373.09" cy="317.65" r="2.35" fill="none" stroke="#1a1a1a" stroke-width="0.8"/>
<circle cx="366.88" cy="316.76" r="2.35" fill="none" stroke="#1a1a1a" stroke-width="0.8"/>
<circle cx="362.74" cy="315.45" r="2.35" fill="none" stroke="#1a1a1a" stroke-width="0.8"/>
<circle cx="368.95" cy="313.98" r="2.35" fill="none" stroke="#1a1a1a" stroke-width="0.8"/>
<circle cx="373.09" cy="312.67" r="2.35" fill="none" stroke="#1a1a1a" stroke-width="0.8"/>
<circle cx="364.81" cy="311.52" r="2.35" fill="none" stroke="#1a1a1a" stroke-width="0.8"/>
<circle cx="368.95" cy="310.26" r="2.35" fill="none" stroke="#1a1a1a" stroke-width="0.8"/>
<circle cx="373.09" cy="308.83" r="2.35" fill="none" stroke="#1a1a1a" stroke-width="0.8"/>
<circle cx="366.88" cy="307.61" r="2.35" fill="none" stroke="#1a1a1a" stroke-width="0.8"/>
<circle cx="371.02" cy="306.11" r="2.35" fill="none" stroke="#1a1a1a" stroke-width="0.8"/>
<circle cx="364.81" cy="304.7" r="2.35" fill="none" stroke="#1a1a1a" stroke-width="0.8"/>
<circle cx="368.95" cy="302.62" r="2.35" fill="none" stroke="#1a1a1a" stroke-width="0.8"/>
<circle cx="373.09" cy="300.02" r="2.35" fill="none" stroke="#1a1a1a" stroke-width="0.8"/>
<circle cx="368.95" cy="297.16" r="2.35" fill="none" stroke="#1a1a1a" stroke-width="0.8"/>
<circle cx="368.95" cy="291.61" r="2.35" fill="none" stroke="#1a1a1a" stroke-width="0.8"/>
<path d="M389.35,311.87 V292.81 M387.35,292.81 h4 M387.35,311.87 h4" stroke="#111" stroke-width="1" fill="none"/>
<circle cx="389.35" cy="320.25" r="2.35" fill="none" stroke="#1a1a1a" stroke-width="0.8"/>
<circle cx="389.35" cy="315.41" r="2.35" fill="none" stroke="#1a1a1a" stroke-width="0.8"/>
<circle cx="393.49" cy="312.98" r="2.35" fill="none" stroke="#1a1a1a" stroke-width="0.8"/>
<circle cx="389.35" cy="311.24" r="2.35" fill="none" stroke="#1a1a1a" stroke-width="0.8"/>
<circle cx="385.21" cy="309.76" r="2.35" fill="none" stroke="#1a1a1a" stroke-width="0.8"/>
<circle cx="391.42" cy="308.07" r="2.35" fill="none" stroke="#1a1a1a" stroke-width="0.8"/>
<circle cx="395.56" cy="307.27" r="2.35" fill="none" stroke="#1a1a1a" stroke-width="0.8"/>
<circle cx="387.28" cy="306.05" r="2.35" fill="none" stroke="#1a1a1a" stroke-width="0.8"/>
<circle cx="383.14" cy="305" r="2.35" fill="none" stroke="#1a1a1a" stroke-width="0.8"/>
<circle cx="391.42" cy="304.07" r="2.35" fill="none" stroke="#1a1a1a" stroke-width="0.8"/>
<circle cx="387.28" cy="302.59" r="2.35" fill="none" stroke="#1a1a1a" stroke-width="0.8"/>
<circle cx="395.56" cy="301.67" r="2.35" fill="none" stroke="#1a1a1a" stroke-width="0.8"/>
<circle cx="391.42" cy="300.41" r="2.35" fill="none" stroke="#1a1a1a" stroke-width="0.8"/>
<circle cx="387.28" cy="299.06" r="2.35" fill="none" stroke="#1a1a1a" stroke-width="0.8"/>
<circle cx="395.56" cy="297.82" r="2.35" fill="none" stroke="#1a1a1a" stroke-width="0.8"/>
<circle cx="391.42" cy="296.45" r="2.35" fill="none" stroke="#1a1a1a" stroke-width="0.8"/>
<circle cx="387.28" cy="294.92" r="2.35" fill="none" stroke="#1a1a1a" stroke-width="0.8"/>
<circle cx="391.42" cy="292.85" r="2.35" fill="none" stroke="#1a1a1a" stroke-width="0.8"/>
<circle cx="387.28" cy="291.41" r="2.35" fill="none" stroke="#1a1a1a" stroke-width="0.8"/>
<circle cx="391.42" cy="288.87" r="2.35" fill="none" stroke="#1a1a1a" stroke-width="0.8"/>
<circle cx="389.35" cy="285.83" r="2.35" fill="none" stroke="#1a1a1a" stroke-width="0.8"/>
<circle cx="389.35" cy="280.01" r="2.35" fill="none" stroke="#1a1a1a" stroke-width="0.8"/>
<path d="M300.3,263 V363.4 H403.3" fill="none" stroke="#5a5a5a" stroke-width="1"/>
<line x1="296.7" y1="363.4" x2="300.3" y2="363.4" stroke="#5a5a5a" stroke-width="1"/>
<text x="294.8" y="366.3" font-size="9.4" text-anchor="end" fill="#141414">0</text>
<line x1="296.7" y1="330.03" x2="300.3" y2="330.03" stroke="#5a5a5a" stroke-width="1"/>
<text x="294.8" y="332.93" font-size="9.4" text-anchor="end" fill="#141414">10</text>
<line x1="296.7" y1="296.67" x2="300.3" y2="296.67" stroke="#5a5a5a" stroke-width="1"/>
<text x="294.8" y="299.57" font-size="9.4" text-anchor="end" fill="#141414">20</text>
<line x1="296.7" y1="263.3" x2="300.3" y2="263.3" stroke="#5a5a5a" stroke-width="1"/>
<text x="294.8" y="266.2" font-size="9.4" text-anchor="end" fill="#141414">30</text>
<line x1="324.4" y1="360.1" x2="324.4" y2="363.4" stroke="#5a5a5a" stroke-width="1"/>
<line x1="379" y1="360.1" x2="379" y2="363.4" stroke="#5a5a5a" stroke-width="1"/>
<text x="324.9" y="374.8" font-size="9.5" text-anchor="middle" fill="#141414">Wake</text>
<text x="379.7" y="374.8" font-size="9.5" text-anchor="middle" fill="#141414">Maintenance</text>
<text x="283.7" y="313.4" font-size="9.4" text-anchor="middle" fill="#141414" transform="rotate(-90 283.7 313.4)">Theta(dB)</text>
<line x1="335.3" y1="268.1" x2="388.8" y2="268.1" stroke="#777" stroke-width="0.9"/>
<circle cx="356.6" cy="265.5" r="1.15" fill="#111"/>
<circle cx="360" cy="265.5" r="1.15" fill="#111"/>
<circle cx="363.4" cy="265.5" r="1.15" fill="#111"/>
<line x1="313.5" y1="275.8" x2="366" y2="275.8" stroke="#777" stroke-width="0.9"/>
<circle cx="335.3" cy="273.2" r="1.15" fill="#111"/>
<circle cx="338.7" cy="273.2" r="1.15" fill="#111"/>
<circle cx="342.1" cy="273.2" r="1.15" fill="#111"/>
<line x1="370" y1="275.8" x2="387.4" y2="275.8" stroke="#777" stroke-width="0.9"/>
<circle cx="378" cy="273.2" r="1.15" fill="#111"/>
<rect x="441.2" y="338.07" width="13.3" height="25.33" fill="#6db6f6"/>
<rect x="461.5" y="342.73" width="13.3" height="20.67" fill="#fdbb78"/>
<rect x="495.8" y="315.07" width="13.3" height="48.33" fill="#6db6f6"/>
<rect x="516.2" y="296.73" width="13.3" height="66.67" fill="#fdbb78"/>
<path d="M447.85,346.07 V330.07 M445.85,330.07 h4 M445.85,346.07 h4" stroke="#111" stroke-width="1" fill="none"/>
<circle cx="447.85" cy="352.73" r="2.35" fill="none" stroke="#1a1a1a" stroke-width="0.8"/>
<circle cx="451.99" cy="350.73" r="2.35" fill="none" stroke="#1a1a1a" stroke-width="0.8"/>
<circle cx="447.85" cy="348.4" r="2.35" fill="none" stroke="#1a1a1a" stroke-width="0.8"/>
<circle cx="451.99" cy="346.73" r="2.35" fill="none" stroke="#1a1a1a" stroke-width="0.8"/>
<circle cx="445.78" cy="345.07" r="2.35" fill="none" stroke="#1a1a1a" stroke-width="0.8"/>
<circle cx="449.92" cy="343.4" r="2.35" fill="none" stroke="#1a1a1a" stroke-width="0.8"/>
<circle cx="454.06" cy="342.73" r="2.35" fill="none" stroke="#1a1a1a" stroke-width="0.8"/>
<circle cx="447.85" cy="340.73" r="2.35" fill="none" stroke="#1a1a1a" stroke-width="0.8"/>
<circle cx="451.99" cy="339.4" r="2.35" fill="none" stroke="#1a1a1a" stroke-width="0.8"/>
<circle cx="445.78" cy="338.07" r="2.35" fill="none" stroke="#1a1a1a" stroke-width="0.8"/>
<circle cx="449.92" cy="336.73" r="2.35" fill="none" stroke="#1a1a1a" stroke-width="0.8"/>
<circle cx="443.71" cy="335.07" r="2.35" fill="none" stroke="#1a1a1a" stroke-width="0.8"/>
<circle cx="447.85" cy="333.4" r="2.35" fill="none" stroke="#1a1a1a" stroke-width="0.8"/>
<circle cx="451.99" cy="332.4" r="2.35" fill="none" stroke="#1a1a1a" stroke-width="0.8"/>
<circle cx="445.78" cy="330.73" r="2.35" fill="none" stroke="#1a1a1a" stroke-width="0.8"/>
<circle cx="449.92" cy="329.4" r="2.35" fill="none" stroke="#1a1a1a" stroke-width="0.8"/>
<circle cx="454.06" cy="328.4" r="2.35" fill="none" stroke="#1a1a1a" stroke-width="0.8"/>
<circle cx="443.71" cy="327.4" r="2.35" fill="none" stroke="#1a1a1a" stroke-width="0.8"/>
<circle cx="447.85" cy="326.73" r="2.35" fill="none" stroke="#1a1a1a" stroke-width="0.8"/>
<circle cx="447.3" cy="326.4" r="2.35" fill="none" stroke="#1a1a1a" stroke-width="0.8"/>
<path d="M468.15,353.4 V332.07 M466.15,332.07 h4 M466.15,353.4 h4" stroke="#111" stroke-width="1" fill="none"/>
<circle cx="468.15" cy="358.4" r="2.35" fill="none" stroke="#1a1a1a" stroke-width="0.8"/>
<circle cx="472.29" cy="357.4" r="2.35" fill="none" stroke="#1a1a1a" stroke-width="0.8"/>
<circle cx="464.01" cy="356.07" r="2.35" fill="none" stroke="#1a1a1a" stroke-width="0.8"/>
<circle cx="468.15" cy="354.73" r="2.35" fill="none" stroke="#1a1a1a" stroke-width="0.8"/>
<circle cx="472.29" cy="353.4" r="2.35" fill="none" stroke="#1a1a1a" stroke-width="0.8"/>
<circle cx="466.08" cy="351.73" r="2.35" fill="none" stroke="#1a1a1a" stroke-width="0.8"/>
<circle cx="470.22" cy="349.4" r="2.35" fill="none" stroke="#1a1a1a" stroke-width="0.8"/>
<circle cx="468.15" cy="346.73" r="2.35" fill="none" stroke="#1a1a1a" stroke-width="0.8"/>
<circle cx="470.22" cy="343.4" r="2.35" fill="none" stroke="#1a1a1a" stroke-width="0.8"/>
<circle cx="468.15" cy="340.07" r="2.35" fill="none" stroke="#1a1a1a" stroke-width="0.8"/>
<circle cx="472.29" cy="338.4" r="2.35" fill="none" stroke="#1a1a1a" stroke-width="0.8"/>
<circle cx="468.15" cy="336.07" r="2.35" fill="none" stroke="#1a1a1a" stroke-width="0.8"/>
<circle cx="472.29" cy="334.73" r="2.35" fill="none" stroke="#1a1a1a" stroke-width="0.8"/>
<circle cx="466.08" cy="333.4" r="2.35" fill="none" stroke="#1a1a1a" stroke-width="0.8"/>
<circle cx="470.22" cy="332.07" r="2.35" fill="none" stroke="#1a1a1a" stroke-width="0.8"/>
<circle cx="464.01" cy="330.73" r="2.35" fill="none" stroke="#1a1a1a" stroke-width="0.8"/>
<circle cx="468.15" cy="329.4" r="2.35" fill="none" stroke="#1a1a1a" stroke-width="0.8"/>
<circle cx="472.29" cy="328.4" r="2.35" fill="none" stroke="#1a1a1a" stroke-width="0.8"/>
<circle cx="461.94" cy="328.07" r="2.35" fill="none" stroke="#1a1a1a" stroke-width="0.8"/>
<path d="M502.45,325.38 V304.75 M500.45,304.75 h4 M500.45,325.38 h4" stroke="#111" stroke-width="1" fill="none"/>
<circle cx="502.45" cy="341.9" r="2.35" fill="none" stroke="#1a1a1a" stroke-width="0.8"/>
<circle cx="502.45" cy="334.87" r="2.35" fill="none" stroke="#1a1a1a" stroke-width="0.8"/>
<circle cx="502.45" cy="331.15" r="2.35" fill="none" stroke="#1a1a1a" stroke-width="0.8"/>
<circle cx="504.52" cy="328.25" r="2.35" fill="none" stroke="#1a1a1a" stroke-width="0.8"/>
<circle cx="500.38" cy="325.8" r="2.35" fill="none" stroke="#1a1a1a" stroke-width="0.8"/>
<circle cx="504.52" cy="324.34" r="2.35" fill="none" stroke="#1a1a1a" stroke-width="0.8"/>
<circle cx="500.38" cy="322.29" r="2.35" fill="none" stroke="#1a1a1a" stroke-width="0.8"/>
<circle cx="504.52" cy="320.61" r="2.35" fill="none" stroke="#1a1a1a" stroke-width="0.8"/>
<circle cx="500.38" cy="318.63" r="2.35" fill="none" stroke="#1a1a1a" stroke-width="0.8"/>
<circle cx="504.52" cy="317.25" r="2.35" fill="none" stroke="#1a1a1a" stroke-width="0.8"/>
<circle cx="508.66" cy="316.07" r="2.35" fill="none" stroke="#1a1a1a" stroke-width="0.8"/>
<circle cx="502.45" cy="314.47" r="2.35" fill="none" stroke="#1a1a1a" stroke-width="0.8"/>
<circle cx="506.59" cy="313.44" r="2.35" fill="none" stroke="#1a1a1a" stroke-width="0.8"/>
<circle cx="498.31" cy="312.56" r="2.35" fill="none" stroke="#1a1a1a" stroke-width="0.8"/>
<circle cx="506.73" cy="311.43" r="2.35" fill="none" stroke="#1a1a1a" stroke-width="0.8"/>
<circle cx="502.45" cy="310.61" r="2.35" fill="none" stroke="#1a1a1a" stroke-width="0.8"/>
<circle cx="496.24" cy="309.53" r="2.35" fill="none" stroke="#1a1a1a" stroke-width="0.8"/>
<circle cx="508.66" cy="308.44" r="2.35" fill="none" stroke="#1a1a1a" stroke-width="0.8"/>
<circle cx="502.45" cy="307.02" r="2.35" fill="none" stroke="#1a1a1a" stroke-width="0.8"/>
<circle cx="506.59" cy="305.24" r="2.35" fill="none" stroke="#1a1a1a" stroke-width="0.8"/>
<circle cx="502.45" cy="302.82" r="2.35" fill="none" stroke="#1a1a1a" stroke-width="0.8"/>
<circle cx="502.45" cy="298.41" r="2.35" fill="none" stroke="#1a1a1a" stroke-width="0.8"/>
<path d="M522.85,304.67 V288.8 M520.85,288.8 h4 M520.85,304.67 h4" stroke="#111" stroke-width="1" fill="none"/>
<circle cx="522.85" cy="316.72" r="2.35" fill="none" stroke="#1a1a1a" stroke-width="0.8"/>
<circle cx="522.85" cy="311.65" r="2.35" fill="none" stroke="#1a1a1a" stroke-width="0.8"/>
<circle cx="524.92" cy="308.89" r="2.35" fill="none" stroke="#1a1a1a" stroke-width="0.8"/>
<circle cx="520.78" cy="306.91" r="2.35" fill="none" stroke="#1a1a1a" stroke-width="0.8"/>
<circle cx="524.92" cy="304.86" r="2.35" fill="none" stroke="#1a1a1a" stroke-width="0.8"/>
<circle cx="520.78" cy="303.26" r="2.35" fill="none" stroke="#1a1a1a" stroke-width="0.8"/>
<circle cx="526.99" cy="302.15" r="2.35" fill="none" stroke="#1a1a1a" stroke-width="0.8"/>
<circle cx="516.64" cy="300.77" r="2.35" fill="none" stroke="#1a1a1a" stroke-width="0.8"/>
<circle cx="522.85" cy="299.48" r="2.35" fill="none" stroke="#1a1a1a" stroke-width="0.8"/>
<circle cx="526.99" cy="298.29" r="2.35" fill="none" stroke="#1a1a1a" stroke-width="0.8"/>
<circle cx="518.71" cy="297.18" r="2.35" fill="none" stroke="#1a1a1a" stroke-width="0.8"/>
<circle cx="528.45" cy="296.44" r="2.35" fill="none" stroke="#1a1a1a" stroke-width="0.8"/>
<circle cx="522.85" cy="295.53" r="2.35" fill="none" stroke="#1a1a1a" stroke-width="0.8"/>
<circle cx="522.52" cy="294.79" r="2.35" fill="none" stroke="#1a1a1a" stroke-width="0.8"/>
<circle cx="516.64" cy="293.99" r="2.35" fill="none" stroke="#1a1a1a" stroke-width="0.8"/>
<circle cx="526.99" cy="293.36" r="2.35" fill="none" stroke="#1a1a1a" stroke-width="0.8"/>
<circle cx="524.92" cy="292.13" r="2.35" fill="none" stroke="#1a1a1a" stroke-width="0.8"/>
<circle cx="520.78" cy="291.34" r="2.35" fill="none" stroke="#1a1a1a" stroke-width="0.8"/>
<circle cx="529.06" cy="289.9" r="2.35" fill="none" stroke="#1a1a1a" stroke-width="0.8"/>
<circle cx="522.85" cy="288.51" r="2.35" fill="none" stroke="#1a1a1a" stroke-width="0.8"/>
<circle cx="526.99" cy="286.87" r="2.35" fill="none" stroke="#1a1a1a" stroke-width="0.8"/>
<circle cx="522.85" cy="283.44" r="2.35" fill="none" stroke="#1a1a1a" stroke-width="0.8"/>
<path d="M433.8,263.1 V363.4 H536.8" fill="none" stroke="#5a5a5a" stroke-width="1"/>
<line x1="430.2" y1="363.4" x2="433.8" y2="363.4" stroke="#5a5a5a" stroke-width="1"/>
<text x="428.3" y="366.3" font-size="9.4" text-anchor="end" fill="#141414">0</text>
<line x1="430.2" y1="330.07" x2="433.8" y2="330.07" stroke="#5a5a5a" stroke-width="1"/>
<text x="428.3" y="332.97" font-size="9.4" text-anchor="end" fill="#141414">10</text>
<line x1="430.2" y1="296.73" x2="433.8" y2="296.73" stroke="#5a5a5a" stroke-width="1"/>
<text x="428.3" y="299.63" font-size="9.4" text-anchor="end" fill="#141414">20</text>
<line x1="430.2" y1="263.4" x2="433.8" y2="263.4" stroke="#5a5a5a" stroke-width="1"/>
<text x="428.3" y="266.3" font-size="9.4" text-anchor="end" fill="#141414">30</text>
<line x1="457.9" y1="360.1" x2="457.9" y2="363.4" stroke="#5a5a5a" stroke-width="1"/>
<line x1="512.5" y1="360.1" x2="512.5" y2="363.4" stroke="#5a5a5a" stroke-width="1"/>
<text x="458.4" y="374.8" font-size="9.5" text-anchor="middle" fill="#141414">Wake</text>
<text x="513.2" y="374.8" font-size="9.5" text-anchor="middle" fill="#141414">Maintenance</text>
<text x="414.3" y="316" font-size="9.4" text-anchor="middle" fill="#141414" transform="rotate(-90 414.3 316)">Alpha(dB)</text>
<line x1="470.1" y1="269.2" x2="523.7" y2="269.2" stroke="#777" stroke-width="0.9"/>
<circle cx="491.1" cy="266.7" r="1.15" fill="#111"/>
<circle cx="494.5" cy="266.7" r="1.15" fill="#111"/>
<circle cx="497.9" cy="266.7" r="1.15" fill="#111"/>
<line x1="448.1" y1="277.3" x2="500.8" y2="277.3" stroke="#777" stroke-width="0.9"/>
<circle cx="468.2" cy="274.8" r="1.15" fill="#111"/>
<circle cx="471.6" cy="274.8" r="1.15" fill="#111"/>
<circle cx="475" cy="274.8" r="1.15" fill="#111"/>
<line x1="503.6" y1="277.3" x2="523.7" y2="277.3" stroke="#777" stroke-width="0.9"/>
<circle cx="508.3" cy="274.8" r="1.15" fill="#111"/>
<circle cx="511.7" cy="274.8" r="1.15" fill="#111"/>
<circle cx="515.1" cy="274.8" r="1.15" fill="#111"/>
<rect x="47.9" y="479.73" width="13.3" height="24.87" fill="#6db6f6"/>
<rect x="68.2" y="482.13" width="13.3" height="22.47" fill="#fdbb78"/>
<rect x="102.5" y="465.28" width="13.3" height="39.32" fill="#6db6f6"/>
<rect x="122.9" y="443.62" width="13.3" height="60.98" fill="#fdbb78"/>
<path d="M54.55,486.89 V472.56 M52.55,472.56 h4 M52.55,486.89 h4" stroke="#111" stroke-width="1" fill="none"/>
<circle cx="54.55" cy="494.79" r="2.35" fill="none" stroke="#1a1a1a" stroke-width="0.8"/>
<circle cx="54.55" cy="490.65" r="2.35" fill="none" stroke="#1a1a1a" stroke-width="0.8"/>
<circle cx="58.69" cy="488.64" r="2.35" fill="none" stroke="#1a1a1a" stroke-width="0.8"/>
<circle cx="54.55" cy="486.69" r="2.35" fill="none" stroke="#1a1a1a" stroke-width="0.8"/>
<circle cx="58.69" cy="485.3" r="2.35" fill="none" stroke="#1a1a1a" stroke-width="0.8"/>
<circle cx="50.41" cy="484.39" r="2.35" fill="none" stroke="#1a1a1a" stroke-width="0.8"/>
<circle cx="54.55" cy="482.95" r="2.35" fill="none" stroke="#1a1a1a" stroke-width="0.8"/>
<circle cx="60.76" cy="482.14" r="2.35" fill="none" stroke="#1a1a1a" stroke-width="0.8"/>
<circle cx="48.34" cy="481.06" r="2.35" fill="none" stroke="#1a1a1a" stroke-width="0.8"/>
<circle cx="56.62" cy="480.3" r="2.35" fill="none" stroke="#1a1a1a" stroke-width="0.8"/>
<circle cx="52.48" cy="479.41" r="2.35" fill="none" stroke="#1a1a1a" stroke-width="0.8"/>
<circle cx="60.76" cy="478.34" r="2.35" fill="none" stroke="#1a1a1a" stroke-width="0.8"/>
<circle cx="48.34" cy="477.29" r="2.35" fill="none" stroke="#1a1a1a" stroke-width="0.8"/>
<circle cx="54.55" cy="476.34" r="2.35" fill="none" stroke="#1a1a1a" stroke-width="0.8"/>
<circle cx="58.69" cy="474.97" r="2.35" fill="none" stroke="#1a1a1a" stroke-width="0.8"/>
<circle cx="50.41" cy="473.84" r="2.35" fill="none" stroke="#1a1a1a" stroke-width="0.8"/>
<circle cx="54.55" cy="472.6" r="2.35" fill="none" stroke="#1a1a1a" stroke-width="0.8"/>
<circle cx="58.69" cy="470.79" r="2.35" fill="none" stroke="#1a1a1a" stroke-width="0.8"/>
<circle cx="54.55" cy="468.7" r="2.35" fill="none" stroke="#1a1a1a" stroke-width="0.8"/>
<circle cx="54.55" cy="464.43" r="2.35" fill="none" stroke="#1a1a1a" stroke-width="0.8"/>
<path d="M74.85,488.82 V475.45 M72.85,475.45 h4 M72.85,488.82 h4" stroke="#111" stroke-width="1" fill="none"/>
<circle cx="74.85" cy="494.56" r="2.35" fill="none" stroke="#1a1a1a" stroke-width="0.8"/>
<circle cx="76.92" cy="491.35" r="2.35" fill="none" stroke="#1a1a1a" stroke-width="0.8"/>
<circle cx="72.78" cy="489.29" r="2.35" fill="none" stroke="#1a1a1a" stroke-width="0.8"/>
<circle cx="76.92" cy="487.87" r="2.35" fill="none" stroke="#1a1a1a" stroke-width="0.8"/>
<circle cx="81.06" cy="486.87" r="2.35" fill="none" stroke="#1a1a1a" stroke-width="0.8"/>
<circle cx="72.78" cy="485.86" r="2.35" fill="none" stroke="#1a1a1a" stroke-width="0.8"/>
<circle cx="68.64" cy="485.04" r="2.35" fill="none" stroke="#1a1a1a" stroke-width="0.8"/>
<circle cx="76.92" cy="484.25" r="2.35" fill="none" stroke="#1a1a1a" stroke-width="0.8"/>
<circle cx="81.06" cy="483.13" r="2.35" fill="none" stroke="#1a1a1a" stroke-width="0.8"/>
<circle cx="72.78" cy="482.33" r="2.35" fill="none" stroke="#1a1a1a" stroke-width="0.8"/>
<circle cx="69.31" cy="481.76" r="2.35" fill="none" stroke="#1a1a1a" stroke-width="0.8"/>
<circle cx="76.92" cy="480.46" r="2.35" fill="none" stroke="#1a1a1a" stroke-width="0.8"/>
<circle cx="81.06" cy="479.39" r="2.35" fill="none" stroke="#1a1a1a" stroke-width="0.8"/>
<circle cx="72.78" cy="478.61" r="2.35" fill="none" stroke="#1a1a1a" stroke-width="0.8"/>
<circle cx="68.64" cy="477.43" r="2.35" fill="none" stroke="#1a1a1a" stroke-width="0.8"/>
<circle cx="76.92" cy="476.02" r="2.35" fill="none" stroke="#1a1a1a" stroke-width="0.8"/>
<circle cx="72.78" cy="474.66" r="2.35" fill="none" stroke="#1a1a1a" stroke-width="0.8"/>
<circle cx="78.99" cy="473.09" r="2.35" fill="none" stroke="#1a1a1a" stroke-width="0.8"/>
<circle cx="74.85" cy="470.63" r="2.35" fill="none" stroke="#1a1a1a" stroke-width="0.8"/>
<circle cx="74.85" cy="466.28" r="2.35" fill="none" stroke="#1a1a1a" stroke-width="0.8"/>
<path d="M109.15,474.83 V455.73 M107.15,455.73 h4 M107.15,474.83 h4" stroke="#111" stroke-width="1" fill="none"/>
<circle cx="109.15" cy="486.53" r="2.35" fill="none" stroke="#1a1a1a" stroke-width="0.8"/>
<circle cx="109.15" cy="481.16" r="2.35" fill="none" stroke="#1a1a1a" stroke-width="0.8"/>
<circle cx="111.22" cy="478.27" r="2.35" fill="none" stroke="#1a1a1a" stroke-width="0.8"/>
<circle cx="107.08" cy="476.1" r="2.35" fill="none" stroke="#1a1a1a" stroke-width="0.8"/>
<circle cx="111.22" cy="474.07" r="2.35" fill="none" stroke="#1a1a1a" stroke-width="0.8"/>
<circle cx="107.08" cy="472.38" r="2.35" fill="none" stroke="#1a1a1a" stroke-width="0.8"/>
<circle cx="113.29" cy="470.93" r="2.35" fill="none" stroke="#1a1a1a" stroke-width="0.8"/>
<circle cx="109.15" cy="469.53" r="2.35" fill="none" stroke="#1a1a1a" stroke-width="0.8"/>
<circle cx="105.01" cy="468.39" r="2.35" fill="none" stroke="#1a1a1a" stroke-width="0.8"/>
<circle cx="113.29" cy="467.36" r="2.35" fill="none" stroke="#1a1a1a" stroke-width="0.8"/>
<circle cx="109.15" cy="466.04" r="2.35" fill="none" stroke="#1a1a1a" stroke-width="0.8"/>
<circle cx="105.01" cy="464.59" r="2.35" fill="none" stroke="#1a1a1a" stroke-width="0.8"/>
<circle cx="113.29" cy="463.71" r="2.35" fill="none" stroke="#1a1a1a" stroke-width="0.8"/>
<circle cx="109.15" cy="462.52" r="2.35" fill="none" stroke="#1a1a1a" stroke-width="0.8"/>
<circle cx="102.94" cy="461.32" r="2.35" fill="none" stroke="#1a1a1a" stroke-width="0.8"/>
<circle cx="113.29" cy="460.08" r="2.35" fill="none" stroke="#1a1a1a" stroke-width="0.8"/>
<circle cx="109.15" cy="459.11" r="2.35" fill="none" stroke="#1a1a1a" stroke-width="0.8"/>
<circle cx="105.01" cy="457.52" r="2.35" fill="none" stroke="#1a1a1a" stroke-width="0.8"/>
<circle cx="111.22" cy="455.79" r="2.35" fill="none" stroke="#1a1a1a" stroke-width="0.8"/>
<circle cx="107.08" cy="453.66" r="2.35" fill="none" stroke="#1a1a1a" stroke-width="0.8"/>
<circle cx="111.22" cy="451.36" r="2.35" fill="none" stroke="#1a1a1a" stroke-width="0.8"/>
<circle cx="109.15" cy="446.21" r="2.35" fill="none" stroke="#1a1a1a" stroke-width="0.8"/>
<path d="M129.55,453.65 V433.59 M127.55,433.59 h4 M127.55,453.65 h4" stroke="#111" stroke-width="1" fill="none"/>
<circle cx="129.55" cy="468.57" r="2.35" fill="none" stroke="#1a1a1a" stroke-width="0.8"/>
<circle cx="129.55" cy="462" r="2.35" fill="none" stroke="#1a1a1a" stroke-width="0.8"/>
<circle cx="129.55" cy="458.54" r="2.35" fill="none" stroke="#1a1a1a" stroke-width="0.8"/>
<circle cx="133.69" cy="455.93" r="2.35" fill="none" stroke="#1a1a1a" stroke-width="0.8"/>
<circle cx="129.55" cy="453.74" r="2.35" fill="none" stroke="#1a1a1a" stroke-width="0.8"/>
<circle cx="133.69" cy="451.84" r="2.35" fill="none" stroke="#1a1a1a" stroke-width="0.8"/>
<circle cx="127.48" cy="450.53" r="2.35" fill="none" stroke="#1a1a1a" stroke-width="0.8"/>
<circle cx="131.62" cy="448.73" r="2.35" fill="none" stroke="#1a1a1a" stroke-width="0.8"/>
<circle cx="125.41" cy="447.32" r="2.35" fill="none" stroke="#1a1a1a" stroke-width="0.8"/>
<circle cx="129.55" cy="445.99" r="2.35" fill="none" stroke="#1a1a1a" stroke-width="0.8"/>
<circle cx="133.69" cy="444.16" r="2.35" fill="none" stroke="#1a1a1a" stroke-width="0.8"/>
<circle cx="127.48" cy="442.9" r="2.35" fill="none" stroke="#1a1a1a" stroke-width="0.8"/>
<circle cx="123.34" cy="442.11" r="2.35" fill="none" stroke="#1a1a1a" stroke-width="0.8"/>
<circle cx="131.62" cy="441.33" r="2.35" fill="none" stroke="#1a1a1a" stroke-width="0.8"/>
<circle cx="135.76" cy="439.89" r="2.35" fill="none" stroke="#1a1a1a" stroke-width="0.8"/>
<circle cx="127.48" cy="438.78" r="2.35" fill="none" stroke="#1a1a1a" stroke-width="0.8"/>
<circle cx="123.34" cy="438.04" r="2.35" fill="none" stroke="#1a1a1a" stroke-width="0.8"/>
<circle cx="131.62" cy="436.6" r="2.35" fill="none" stroke="#1a1a1a" stroke-width="0.8"/>
<circle cx="127.48" cy="435.11" r="2.35" fill="none" stroke="#1a1a1a" stroke-width="0.8"/>
<circle cx="133.69" cy="433.3" r="2.35" fill="none" stroke="#1a1a1a" stroke-width="0.8"/>
<circle cx="129.55" cy="430.6" r="2.35" fill="none" stroke="#1a1a1a" stroke-width="0.8"/>
<circle cx="129.55" cy="426.62" r="2.35" fill="none" stroke="#1a1a1a" stroke-width="0.8"/>
<path d="M40.5,404 V504.6 H143.5" fill="none" stroke="#5a5a5a" stroke-width="1"/>
<line x1="36.9" y1="504.6" x2="40.5" y2="504.6" stroke="#5a5a5a" stroke-width="1"/>
<text x="35" y="506.5" font-size="9.4" text-anchor="end" fill="#141414">0</text>
<line x1="36.9" y1="484.54" x2="40.5" y2="484.54" stroke="#5a5a5a" stroke-width="1"/>
<text x="35" y="486.44" font-size="9.4" text-anchor="end" fill="#141414">5</text>
<line x1="36.9" y1="464.48" x2="40.5" y2="464.48" stroke="#5a5a5a" stroke-width="1"/>
<text x="35" y="466.38" font-size="9.4" text-anchor="end" fill="#141414">10</text>
<line x1="36.9" y1="444.42" x2="40.5" y2="444.42" stroke="#5a5a5a" stroke-width="1"/>
<text x="35" y="446.32" font-size="9.4" text-anchor="end" fill="#141414">15</text>
<line x1="36.9" y1="424.36" x2="40.5" y2="424.36" stroke="#5a5a5a" stroke-width="1"/>
<text x="35" y="426.26" font-size="9.4" text-anchor="end" fill="#141414">20</text>
<line x1="36.9" y1="404.3" x2="40.5" y2="404.3" stroke="#5a5a5a" stroke-width="1"/>
<text x="35" y="406.2" font-size="9.4" text-anchor="end" fill="#141414">25</text>
<line x1="64.6" y1="501.3" x2="64.6" y2="504.6" stroke="#5a5a5a" stroke-width="1"/>
<line x1="119.2" y1="501.3" x2="119.2" y2="504.6" stroke="#5a5a5a" stroke-width="1"/>
<text x="65.1" y="517" font-size="9.5" text-anchor="middle" fill="#141414">Wake</text>
<text x="119.9" y="517" font-size="9.5" text-anchor="middle" fill="#141414">Maintenance</text>
<text x="21.4" y="456.8" font-size="9.4" text-anchor="middle" fill="#141414" transform="rotate(-90 21.4 456.8)">Beta(dB)</text>
<line x1="75.9" y1="408.8" x2="131.7" y2="408.8" stroke="#777" stroke-width="0.9"/>
<circle cx="101.1" cy="406.3" r="1.15" fill="#111"/>
<circle cx="104.5" cy="406.3" r="1.15" fill="#111"/>
<circle cx="107.9" cy="406.3" r="1.15" fill="#111"/>
<line x1="52" y1="418.9" x2="106.5" y2="418.9" stroke="#777" stroke-width="0.9"/>
<circle cx="76.6" cy="416.4" r="1.15" fill="#111"/>
<circle cx="80" cy="416.4" r="1.15" fill="#111"/>
<circle cx="83.4" cy="416.4" r="1.15" fill="#111"/>
<line x1="111.6" y1="418.9" x2="131.7" y2="418.9" stroke="#777" stroke-width="0.9"/>
<circle cx="118.3" cy="416.4" r="1.15" fill="#111"/>
<circle cx="121.7" cy="416.4" r="1.15" fill="#111"/>
<circle cx="125.1" cy="416.4" r="1.15" fill="#111"/>
<rect x="179.8" y="439.3" width="13.3" height="15" fill="#6db6f6"/>
<rect x="200.1" y="432.3" width="13.3" height="22" fill="#fdbb78"/>
<rect x="234.4" y="454.3" width="13.3" height="2.5" fill="#6db6f6"/>
<rect x="254.8" y="438.3" width="13.3" height="16" fill="#fdbb78"/>
<line x1="172.4" y1="454.3" x2="275.4" y2="454.3" stroke="#000" stroke-width="1.05" stroke-dasharray="1.1 1.2"/>
<path d="M186.45,446.44 V432.16 M184.45,432.16 h4 M184.45,446.44 h4" stroke="#111" stroke-width="1" fill="none"/>
<circle cx="186.45" cy="451.82" r="2.35" fill="none" stroke="#1a1a1a" stroke-width="0.8"/>
<circle cx="186.45" cy="448.42" r="2.35" fill="none" stroke="#1a1a1a" stroke-width="0.8"/>
<circle cx="190.59" cy="446.66" r="2.35" fill="none" stroke="#1a1a1a" stroke-width="0.8"/>
<circle cx="184.38" cy="445.34" r="2.35" fill="none" stroke="#1a1a1a" stroke-width="0.8"/>
<circle cx="180.24" cy="444.15" r="2.35" fill="none" stroke="#1a1a1a" stroke-width="0.8"/>
<circle cx="188.52" cy="443.3" r="2.35" fill="none" stroke="#1a1a1a" stroke-width="0.8"/>
<circle cx="192.66" cy="442.19" r="2.35" fill="none" stroke="#1a1a1a" stroke-width="0.8"/>
<circle cx="184.38" cy="441.2" r="2.35" fill="none" stroke="#1a1a1a" stroke-width="0.8"/>
<circle cx="180.24" cy="440.57" r="2.35" fill="none" stroke="#1a1a1a" stroke-width="0.8"/>
<circle cx="188.52" cy="439.64" r="2.35" fill="none" stroke="#1a1a1a" stroke-width="0.8"/>
<circle cx="192.66" cy="438.71" r="2.35" fill="none" stroke="#1a1a1a" stroke-width="0.8"/>
<circle cx="184.38" cy="437.62" r="2.35" fill="none" stroke="#1a1a1a" stroke-width="0.8"/>
<circle cx="180.24" cy="436.6" r="2.35" fill="none" stroke="#1a1a1a" stroke-width="0.8"/>
<circle cx="188.52" cy="435.26" r="2.35" fill="none" stroke="#1a1a1a" stroke-width="0.8"/>
<circle cx="184.38" cy="433.96" r="2.35" fill="none" stroke="#1a1a1a" stroke-width="0.8"/>
<circle cx="192.66" cy="432.77" r="2.35" fill="none" stroke="#1a1a1a" stroke-width="0.8"/>
<circle cx="186.45" cy="430.79" r="2.35" fill="none" stroke="#1a1a1a" stroke-width="0.8"/>
<circle cx="190.59" cy="428.92" r="2.35" fill="none" stroke="#1a1a1a" stroke-width="0.8"/>
<circle cx="186.45" cy="426.39" r="2.35" fill="none" stroke="#1a1a1a" stroke-width="0.8"/>
<circle cx="186.45" cy="421.91" r="2.35" fill="none" stroke="#1a1a1a" stroke-width="0.8"/>
<path d="M206.75,444.56 V420.04 M204.75,420.04 h4 M204.75,444.56 h4" stroke="#111" stroke-width="1" fill="none"/>
<circle cx="206.75" cy="458.46" r="2.35" fill="none" stroke="#1a1a1a" stroke-width="0.8"/>
<circle cx="206.75" cy="451.2" r="2.35" fill="none" stroke="#1a1a1a" stroke-width="0.8"/>
<circle cx="206.75" cy="447.37" r="2.35" fill="none" stroke="#1a1a1a" stroke-width="0.8"/>
<circle cx="210.89" cy="444.78" r="2.35" fill="none" stroke="#1a1a1a" stroke-width="0.8"/>
<circle cx="206.75" cy="442.13" r="2.35" fill="none" stroke="#1a1a1a" stroke-width="0.8"/>
<circle cx="210.89" cy="440.61" r="2.35" fill="none" stroke="#1a1a1a" stroke-width="0.8"/>
<circle cx="206.75" cy="438.02" r="2.35" fill="none" stroke="#1a1a1a" stroke-width="0.8"/>
<circle cx="210.89" cy="436.4" r="2.35" fill="none" stroke="#1a1a1a" stroke-width="0.8"/>
<circle cx="204.68" cy="434.73" r="2.35" fill="none" stroke="#1a1a1a" stroke-width="0.8"/>
<circle cx="208.82" cy="433.1" r="2.35" fill="none" stroke="#1a1a1a" stroke-width="0.8"/>
<circle cx="204.68" cy="431.19" r="2.35" fill="none" stroke="#1a1a1a" stroke-width="0.8"/>
<circle cx="210.89" cy="429.98" r="2.35" fill="none" stroke="#1a1a1a" stroke-width="0.8"/>
<circle cx="206.75" cy="427.88" r="2.35" fill="none" stroke="#1a1a1a" stroke-width="0.8"/>
<circle cx="202.61" cy="426.75" r="2.35" fill="none" stroke="#1a1a1a" stroke-width="0.8"/>
<circle cx="208.82" cy="424.77" r="2.35" fill="none" stroke="#1a1a1a" stroke-width="0.8"/>
<circle cx="204.68" cy="422.17" r="2.35" fill="none" stroke="#1a1a1a" stroke-width="0.8"/>
<circle cx="208.82" cy="420.36" r="2.35" fill="none" stroke="#1a1a1a" stroke-width="0.8"/>
<circle cx="206.75" cy="416.98" r="2.35" fill="none" stroke="#1a1a1a" stroke-width="0.8"/>
<circle cx="206.75" cy="413.37" r="2.35" fill="none" stroke="#1a1a1a" stroke-width="0.8"/>
<circle cx="206.75" cy="406.42" r="2.35" fill="none" stroke="#1a1a1a" stroke-width="0.8"/>
<path d="M241.05,468.11 V445.49 M239.05,445.49 h4 M239.05,468.11 h4" stroke="#111" stroke-width="1" fill="none"/>
<circle cx="241.05" cy="479.27" r="2.35" fill="none" stroke="#1a1a1a" stroke-width="0.8"/>
<circle cx="241.05" cy="473.48" r="2.35" fill="none" stroke="#1a1a1a" stroke-width="0.8"/>
<circle cx="243.12" cy="470.34" r="2.35" fill="none" stroke="#1a1a1a" stroke-width="0.8"/>
<circle cx="241.05" cy="467.42" r="2.35" fill="none" stroke="#1a1a1a" stroke-width="0.8"/>
<circle cx="245.19" cy="465.68" r="2.35" fill="none" stroke="#1a1a1a" stroke-width="0.8"/>
<circle cx="241.05" cy="463.84" r="2.35" fill="none" stroke="#1a1a1a" stroke-width="0.8"/>
<circle cx="245.19" cy="462.08" r="2.35" fill="none" stroke="#1a1a1a" stroke-width="0.8"/>
<circle cx="241.05" cy="460.36" r="2.35" fill="none" stroke="#1a1a1a" stroke-width="0.8"/>
<circle cx="245.19" cy="458.62" r="2.35" fill="none" stroke="#1a1a1a" stroke-width="0.8"/>
<circle cx="238.98" cy="457.55" r="2.35" fill="none" stroke="#1a1a1a" stroke-width="0.8"/>
<circle cx="243.12" cy="455.65" r="2.35" fill="none" stroke="#1a1a1a" stroke-width="0.8"/>
<circle cx="238.98" cy="454.04" r="2.35" fill="none" stroke="#1a1a1a" stroke-width="0.8"/>
<circle cx="245.19" cy="452.92" r="2.35" fill="none" stroke="#1a1a1a" stroke-width="0.8"/>
<circle cx="241.05" cy="451.32" r="2.35" fill="none" stroke="#1a1a1a" stroke-width="0.8"/>
<circle cx="245.19" cy="449.42" r="2.35" fill="none" stroke="#1a1a1a" stroke-width="0.8"/>
<circle cx="241.05" cy="446.92" r="2.35" fill="none" stroke="#1a1a1a" stroke-width="0.8"/>
<circle cx="245.19" cy="444.81" r="2.35" fill="none" stroke="#1a1a1a" stroke-width="0.8"/>
<circle cx="241.05" cy="441.83" r="2.35" fill="none" stroke="#1a1a1a" stroke-width="0.8"/>
<circle cx="241.05" cy="438.1" r="2.35" fill="none" stroke="#1a1a1a" stroke-width="0.8"/>
<circle cx="241.05" cy="431.69" r="2.35" fill="none" stroke="#1a1a1a" stroke-width="0.8"/>
<path d="M261.45,448.06 V428.54 M259.45,428.54 h4 M259.45,448.06 h4" stroke="#111" stroke-width="1" fill="none"/>
<circle cx="261.45" cy="462.01" r="2.35" fill="none" stroke="#1a1a1a" stroke-width="0.8"/>
<circle cx="261.45" cy="455.75" r="2.35" fill="none" stroke="#1a1a1a" stroke-width="0.8"/>
<circle cx="263.52" cy="452.72" r="2.35" fill="none" stroke="#1a1a1a" stroke-width="0.8"/>
<circle cx="261.45" cy="450.04" r="2.35" fill="none" stroke="#1a1a1a" stroke-width="0.8"/>
<circle cx="265.59" cy="447.86" r="2.35" fill="none" stroke="#1a1a1a" stroke-width="0.8"/>
<circle cx="261.45" cy="445.96" r="2.35" fill="none" stroke="#1a1a1a" stroke-width="0.8"/>
<circle cx="257.31" cy="444.6" r="2.35" fill="none" stroke="#1a1a1a" stroke-width="0.8"/>
<circle cx="263.52" cy="442.84" r="2.35" fill="none" stroke="#1a1a1a" stroke-width="0.8"/>
<circle cx="259.38" cy="441.95" r="2.35" fill="none" stroke="#1a1a1a" stroke-width="0.8"/>
<circle cx="267.66" cy="440.31" r="2.35" fill="none" stroke="#1a1a1a" stroke-width="0.8"/>
<circle cx="261.45" cy="438.94" r="2.35" fill="none" stroke="#1a1a1a" stroke-width="0.8"/>
<circle cx="265.59" cy="437.65" r="2.35" fill="none" stroke="#1a1a1a" stroke-width="0.8"/>
<circle cx="257.31" cy="437.06" r="2.35" fill="none" stroke="#1a1a1a" stroke-width="0.8"/>
<circle cx="263.99" cy="435.63" r="2.35" fill="none" stroke="#1a1a1a" stroke-width="0.8"/>
<circle cx="267.66" cy="434.61" r="2.35" fill="none" stroke="#1a1a1a" stroke-width="0.8"/>
<circle cx="261.45" cy="433.42" r="2.35" fill="none" stroke="#1a1a1a" stroke-width="0.8"/>
<circle cx="257.31" cy="432.2" r="2.35" fill="none" stroke="#1a1a1a" stroke-width="0.8"/>
<circle cx="265.59" cy="431.25" r="2.35" fill="none" stroke="#1a1a1a" stroke-width="0.8"/>
<circle cx="261.45" cy="429.84" r="2.35" fill="none" stroke="#1a1a1a" stroke-width="0.8"/>
<circle cx="265.59" cy="427.47" r="2.35" fill="none" stroke="#1a1a1a" stroke-width="0.8"/>
<circle cx="261.45" cy="425.38" r="2.35" fill="none" stroke="#1a1a1a" stroke-width="0.8"/>
<circle cx="261.45" cy="420.71" r="2.35" fill="none" stroke="#1a1a1a" stroke-width="0.8"/>
<path d="M172.4,404 V504.3 H275.4" fill="none" stroke="#5a5a5a" stroke-width="1"/>
<line x1="168.8" y1="504.3" x2="172.4" y2="504.3" stroke="#5a5a5a" stroke-width="1"/>
<text x="166.9" y="506.2" font-size="9.4" text-anchor="end" fill="#141414">-10</text>
<line x1="168.8" y1="479.3" x2="172.4" y2="479.3" stroke="#5a5a5a" stroke-width="1"/>
<text x="166.9" y="481.2" font-size="9.4" text-anchor="end" fill="#141414">-5</text>
<line x1="168.8" y1="454.3" x2="172.4" y2="454.3" stroke="#5a5a5a" stroke-width="1"/>
<text x="166.9" y="456.2" font-size="9.4" text-anchor="end" fill="#141414">0</text>
<line x1="168.8" y1="429.3" x2="172.4" y2="429.3" stroke="#5a5a5a" stroke-width="1"/>
<text x="166.9" y="431.2" font-size="9.4" text-anchor="end" fill="#141414">5</text>
<line x1="168.8" y1="404.3" x2="172.4" y2="404.3" stroke="#5a5a5a" stroke-width="1"/>
<text x="166.9" y="406.2" font-size="9.4" text-anchor="end" fill="#141414">10</text>
<line x1="196.5" y1="501" x2="196.5" y2="504.3" stroke="#5a5a5a" stroke-width="1"/>
<line x1="251.1" y1="501" x2="251.1" y2="504.3" stroke="#5a5a5a" stroke-width="1"/>
<text x="197" y="516.7" font-size="9.5" text-anchor="middle" fill="#141414">Wake</text>
<text x="251.8" y="516.7" font-size="9.5" text-anchor="middle" fill="#141414">Maintenance</text>
<text x="155.8" y="454.3" font-size="9.4" text-anchor="middle" fill="#141414" transform="rotate(-90 155.8 454.3)">Gamma(dB)</text>
<line x1="185.9" y1="485.2" x2="238.5" y2="485.2" stroke="#777" stroke-width="0.9"/>
<circle cx="208.7" cy="482.3" r="1.15" fill="#111"/>
<circle cx="212.1" cy="482.3" r="1.15" fill="#111"/>
<circle cx="215.5" cy="482.3" r="1.15" fill="#111"/>
<line x1="241.7" y1="485.2" x2="261.8" y2="485.2" stroke="#777" stroke-width="0.9"/>
<circle cx="248.8" cy="482.3" r="1.15" fill="#111"/>
<circle cx="252.2" cy="482.3" r="1.15" fill="#111"/>
<circle cx="255.6" cy="482.3" r="1.15" fill="#111"/>
<rect x="310.9" y="445.19" width="13.3" height="58.81" fill="#6db6f6"/>
<rect x="331.2" y="438.94" width="13.3" height="65.06" fill="#fdbb78"/>
<rect x="365.5" y="475.72" width="13.3" height="28.28" fill="#6db6f6"/>
<rect x="385.9" y="472.47" width="13.3" height="31.53" fill="#fdbb78"/>
<path d="M317.55,455.02 V435.36 M315.55,435.36 h4 M315.55,455.02 h4" stroke="#111" stroke-width="1" fill="none"/>
<circle cx="317.55" cy="465.28" r="2.35" fill="none" stroke="#1a1a1a" stroke-width="0.8"/>
<circle cx="317.55" cy="460.2" r="2.35" fill="none" stroke="#1a1a1a" stroke-width="0.8"/>
<circle cx="319.62" cy="457.1" r="2.35" fill="none" stroke="#1a1a1a" stroke-width="0.8"/>
<circle cx="315.48" cy="454.91" r="2.35" fill="none" stroke="#1a1a1a" stroke-width="0.8"/>
<circle cx="319.62" cy="453.07" r="2.35" fill="none" stroke="#1a1a1a" stroke-width="0.8"/>
<circle cx="315.48" cy="451.18" r="2.35" fill="none" stroke="#1a1a1a" stroke-width="0.8"/>
<circle cx="321.69" cy="449.95" r="2.35" fill="none" stroke="#1a1a1a" stroke-width="0.8"/>
<circle cx="311.34" cy="448.65" r="2.35" fill="none" stroke="#1a1a1a" stroke-width="0.8"/>
<circle cx="317.55" cy="447.08" r="2.35" fill="none" stroke="#1a1a1a" stroke-width="0.8"/>
<circle cx="321.69" cy="445.81" r="2.35" fill="none" stroke="#1a1a1a" stroke-width="0.8"/>
<circle cx="315.48" cy="444.24" r="2.35" fill="none" stroke="#1a1a1a" stroke-width="0.8"/>
<circle cx="311.34" cy="443.27" r="2.35" fill="none" stroke="#1a1a1a" stroke-width="0.8"/>
<circle cx="319.62" cy="441.66" r="2.35" fill="none" stroke="#1a1a1a" stroke-width="0.8"/>
<circle cx="315.48" cy="440.43" r="2.35" fill="none" stroke="#1a1a1a" stroke-width="0.8"/>
<circle cx="321.69" cy="438.41" r="2.35" fill="none" stroke="#1a1a1a" stroke-width="0.8"/>
<circle cx="317.55" cy="436.73" r="2.35" fill="none" stroke="#1a1a1a" stroke-width="0.8"/>
<circle cx="313.41" cy="435.14" r="2.35" fill="none" stroke="#1a1a1a" stroke-width="0.8"/>
<circle cx="317.55" cy="432.95" r="2.35" fill="none" stroke="#1a1a1a" stroke-width="0.8"/>
<circle cx="319.62" cy="429.69" r="2.35" fill="none" stroke="#1a1a1a" stroke-width="0.8"/>
<circle cx="317.55" cy="424.07" r="2.35" fill="none" stroke="#1a1a1a" stroke-width="0.8"/>
<path d="M337.85,451.95 V425.92 M335.85,425.92 h4 M335.85,451.95 h4" stroke="#111" stroke-width="1" fill="none"/>
<circle cx="337.85" cy="460.71" r="2.35" fill="none" stroke="#1a1a1a" stroke-width="0.8"/>
<circle cx="341.99" cy="459.46" r="2.35" fill="none" stroke="#1a1a1a" stroke-width="0.8"/>
<circle cx="337.85" cy="455.95" r="2.35" fill="none" stroke="#1a1a1a" stroke-width="0.8"/>
<circle cx="341.99" cy="454.95" r="2.35" fill="none" stroke="#1a1a1a" stroke-width="0.8"/>
<circle cx="337.85" cy="450.2" r="2.35" fill="none" stroke="#1a1a1a" stroke-width="0.8"/>
<circle cx="341.99" cy="448.94" r="2.35" fill="none" stroke="#1a1a1a" stroke-width="0.8"/>
<circle cx="337.85" cy="443.94" r="2.35" fill="none" stroke="#1a1a1a" stroke-width="0.8"/>
<circle cx="341.99" cy="443.19" r="2.35" fill="none" stroke="#1a1a1a" stroke-width="0.8"/>
<circle cx="333.71" cy="441.94" r="2.35" fill="none" stroke="#1a1a1a" stroke-width="0.8"/>
<circle cx="337.85" cy="436.43" r="2.35" fill="none" stroke="#1a1a1a" stroke-width="0.8"/>
<circle cx="341.99" cy="435.68" r="2.35" fill="none" stroke="#1a1a1a" stroke-width="0.8"/>
<circle cx="333.71" cy="434.43" r="2.35" fill="none" stroke="#1a1a1a" stroke-width="0.8"/>
<circle cx="337.85" cy="430.93" r="2.35" fill="none" stroke="#1a1a1a" stroke-width="0.8"/>
<circle cx="339.92" cy="427.67" r="2.35" fill="none" stroke="#1a1a1a" stroke-width="0.8"/>
<circle cx="337.85" cy="419.42" r="2.35" fill="none" stroke="#1a1a1a" stroke-width="0.8"/>
<circle cx="341.99" cy="417.41" r="2.35" fill="none" stroke="#1a1a1a" stroke-width="0.8"/>
<circle cx="335.78" cy="416.66" r="2.35" fill="none" stroke="#1a1a1a" stroke-width="0.8"/>
<circle cx="331.64" cy="415.91" r="2.35" fill="none" stroke="#1a1a1a" stroke-width="0.8"/>
<path d="M372.15,480.55 V470.9 M370.15,470.9 h4 M370.15,480.55 h4" stroke="#111" stroke-width="1" fill="none"/>
<circle cx="372.15" cy="485.84" r="2.35" fill="none" stroke="#1a1a1a" stroke-width="0.8"/>
<circle cx="374.22" cy="483.08" r="2.35" fill="none" stroke="#1a1a1a" stroke-width="0.8"/>
<circle cx="370.08" cy="481.5" r="2.35" fill="none" stroke="#1a1a1a" stroke-width="0.8"/>
<circle cx="376.29" cy="480.23" r="2.35" fill="none" stroke="#1a1a1a" stroke-width="0.8"/>
<circle cx="365.94" cy="478.96" r="2.35" fill="none" stroke="#1a1a1a" stroke-width="0.8"/>
<circle cx="372.15" cy="478.14" r="2.35" fill="none" stroke="#1a1a1a" stroke-width="0.8"/>
<circle cx="378.36" cy="477.31" r="2.35" fill="none" stroke="#1a1a1a" stroke-width="0.8"/>
<circle cx="374" cy="476.69" r="2.35" fill="none" stroke="#1a1a1a" stroke-width="0.8"/>
<circle cx="368.01" cy="475.74" r="2.35" fill="none" stroke="#1a1a1a" stroke-width="0.8"/>
<circle cx="378.36" cy="474.97" r="2.35" fill="none" stroke="#1a1a1a" stroke-width="0.8"/>
<circle cx="376.21" cy="474.06" r="2.35" fill="none" stroke="#1a1a1a" stroke-width="0.8"/>
<circle cx="372.15" cy="473.4" r="2.35" fill="none" stroke="#1a1a1a" stroke-width="0.8"/>
<circle cx="368.01" cy="472.25" r="2.35" fill="none" stroke="#1a1a1a" stroke-width="0.8"/>
<circle cx="378.36" cy="471.35" r="2.35" fill="none" stroke="#1a1a1a" stroke-width="0.8"/>
<circle cx="374.22" cy="470.33" r="2.35" fill="none" stroke="#1a1a1a" stroke-width="0.8"/>
<circle cx="370.08" cy="468.7" r="2.35" fill="none" stroke="#1a1a1a" stroke-width="0.8"/>
<circle cx="372.15" cy="465.83" r="2.35" fill="none" stroke="#1a1a1a" stroke-width="0.8"/>
<path d="M392.55,478.72 V466.21 M390.55,466.21 h4 M390.55,478.72 h4" stroke="#111" stroke-width="1" fill="none"/>
<circle cx="392.55" cy="485.42" r="2.35" fill="none" stroke="#1a1a1a" stroke-width="0.8"/>
<circle cx="392.55" cy="481.52" r="2.35" fill="none" stroke="#1a1a1a" stroke-width="0.8"/>
<circle cx="396.69" cy="479.85" r="2.35" fill="none" stroke="#1a1a1a" stroke-width="0.8"/>
<circle cx="390.48" cy="478.23" r="2.35" fill="none" stroke="#1a1a1a" stroke-width="0.8"/>
<circle cx="394.62" cy="476.97" r="2.35" fill="none" stroke="#1a1a1a" stroke-width="0.8"/>
<circle cx="398.76" cy="476.04" r="2.35" fill="none" stroke="#1a1a1a" stroke-width="0.8"/>
<circle cx="388.41" cy="475.03" r="2.35" fill="none" stroke="#1a1a1a" stroke-width="0.8"/>
<circle cx="392.55" cy="473.87" r="2.35" fill="none" stroke="#1a1a1a" stroke-width="0.8"/>
<circle cx="396.69" cy="472.8" r="2.35" fill="none" stroke="#1a1a1a" stroke-width="0.8"/>
<circle cx="386.34" cy="472" r="2.35" fill="none" stroke="#1a1a1a" stroke-width="0.8"/>
<circle cx="390.48" cy="470.91" r="2.35" fill="none" stroke="#1a1a1a" stroke-width="0.8"/>
<circle cx="394.62" cy="469.97" r="2.35" fill="none" stroke="#1a1a1a" stroke-width="0.8"/>
<circle cx="398.76" cy="468.84" r="2.35" fill="none" stroke="#1a1a1a" stroke-width="0.8"/>
<circle cx="388.41" cy="467.67" r="2.35" fill="none" stroke="#1a1a1a" stroke-width="0.8"/>
<circle cx="392.55" cy="466.48" r="2.35" fill="none" stroke="#1a1a1a" stroke-width="0.8"/>
<circle cx="396.69" cy="464.7" r="2.35" fill="none" stroke="#1a1a1a" stroke-width="0.8"/>
<circle cx="392.55" cy="462.81" r="2.35" fill="none" stroke="#1a1a1a" stroke-width="0.8"/>
<circle cx="392.55" cy="458.8" r="2.35" fill="none" stroke="#1a1a1a" stroke-width="0.8"/>
<path d="M303.5,403.6 V504 H402.8" fill="none" stroke="#5a5a5a" stroke-width="1"/>
<line x1="299.9" y1="504" x2="303.5" y2="504" stroke="#5a5a5a" stroke-width="1"/>
<text x="298" y="505.9" font-size="9.4" text-anchor="end" fill="#141414">0</text>
<line x1="299.9" y1="478.98" x2="303.5" y2="478.98" stroke="#5a5a5a" stroke-width="1"/>
<text x="298" y="480.88" font-size="9.4" text-anchor="end" fill="#141414">10</text>
<line x1="299.9" y1="453.95" x2="303.5" y2="453.95" stroke="#5a5a5a" stroke-width="1"/>
<text x="298" y="455.85" font-size="9.4" text-anchor="end" fill="#141414">20</text>
<line x1="299.9" y1="428.92" x2="303.5" y2="428.92" stroke="#5a5a5a" stroke-width="1"/>
<text x="298" y="430.82" font-size="9.4" text-anchor="end" fill="#141414">30</text>
<line x1="299.9" y1="403.9" x2="303.5" y2="403.9" stroke="#5a5a5a" stroke-width="1"/>
<text x="298" y="405.8" font-size="9.4" text-anchor="end" fill="#141414">40</text>
<line x1="327.6" y1="500.7" x2="327.6" y2="504" stroke="#5a5a5a" stroke-width="1"/>
<line x1="382.2" y1="500.7" x2="382.2" y2="504" stroke="#5a5a5a" stroke-width="1"/>
<text x="328.1" y="516.4" font-size="9.5" text-anchor="middle" fill="#141414">Wake</text>
<text x="382.9" y="516.4" font-size="9.5" text-anchor="middle" fill="#141414">Maintenance</text>
<text x="286.3" y="458.9" font-size="9.4" text-anchor="middle" fill="#141414" transform="rotate(-90 286.3 458.9)">Edge Frequency(Hz)</text>
<rect x="442.7" y="476.52" width="13.3" height="28.08" fill="#6db6f6"/>
<rect x="463" y="464.48" width="13.3" height="40.12" fill="#fdbb78"/>
<rect x="497.3" y="465.48" width="13.3" height="39.12" fill="#6db6f6"/>
<rect x="517.7" y="456.46" width="13.3" height="48.14" fill="#fdbb78"/>
<path d="M449.35,482.94 V470.1 M447.35,470.1 h4 M447.35,482.94 h4" stroke="#111" stroke-width="1" fill="none"/>
<circle cx="444.95" cy="478.52" r="2.35" fill="none" stroke="#1a1a1a" stroke-width="0.8"/>
<circle cx="446.05" cy="478.52" r="2.35" fill="none" stroke="#1a1a1a" stroke-width="0.8"/>
<circle cx="447.15" cy="478.52" r="2.35" fill="none" stroke="#1a1a1a" stroke-width="0.8"/>
<circle cx="448.25" cy="478.52" r="2.35" fill="none" stroke="#1a1a1a" stroke-width="0.8"/>
<circle cx="449.35" cy="478.52" r="2.35" fill="none" stroke="#1a1a1a" stroke-width="0.8"/>
<circle cx="450.45" cy="478.52" r="2.35" fill="none" stroke="#1a1a1a" stroke-width="0.8"/>
<circle cx="451.55" cy="478.52" r="2.35" fill="none" stroke="#1a1a1a" stroke-width="0.8"/>
<circle cx="452.65" cy="478.52" r="2.35" fill="none" stroke="#1a1a1a" stroke-width="0.8"/>
<circle cx="453.75" cy="478.52" r="2.35" fill="none" stroke="#1a1a1a" stroke-width="0.8"/>
<circle cx="448.75" cy="468.69" r="2.35" fill="none" stroke="#1a1a1a" stroke-width="0.8"/>
<circle cx="449.95" cy="468.69" r="2.35" fill="none" stroke="#1a1a1a" stroke-width="0.8"/>
<circle cx="449.35" cy="458.86" r="2.35" fill="none" stroke="#1a1a1a" stroke-width="0.8"/>
<path d="M469.65,474.51 V454.45 M467.65,454.45 h4 M467.65,474.51 h4" stroke="#111" stroke-width="1" fill="none"/>
<circle cx="467.25" cy="478.52" r="2.35" fill="none" stroke="#1a1a1a" stroke-width="0.8"/>
<circle cx="469.65" cy="478.52" r="2.35" fill="none" stroke="#1a1a1a" stroke-width="0.8"/>
<circle cx="472.05" cy="478.52" r="2.35" fill="none" stroke="#1a1a1a" stroke-width="0.8"/>
<circle cx="466.05" cy="468.69" r="2.35" fill="none" stroke="#1a1a1a" stroke-width="0.8"/>
<circle cx="468.45" cy="468.69" r="2.35" fill="none" stroke="#1a1a1a" stroke-width="0.8"/>
<circle cx="470.85" cy="468.69" r="2.35" fill="none" stroke="#1a1a1a" stroke-width="0.8"/>
<circle cx="473.25" cy="468.69" r="2.35" fill="none" stroke="#1a1a1a" stroke-width="0.8"/>
<circle cx="466.05" cy="458.86" r="2.35" fill="none" stroke="#1a1a1a" stroke-width="0.8"/>
<circle cx="468.45" cy="458.86" r="2.35" fill="none" stroke="#1a1a1a" stroke-width="0.8"/>
<circle cx="470.85" cy="458.86" r="2.35" fill="none" stroke="#1a1a1a" stroke-width="0.8"/>
<circle cx="473.25" cy="458.86" r="2.35" fill="none" stroke="#1a1a1a" stroke-width="0.8"/>
<circle cx="466.05" cy="449.03" r="2.35" fill="none" stroke="#1a1a1a" stroke-width="0.8"/>
<circle cx="468.45" cy="449.03" r="2.35" fill="none" stroke="#1a1a1a" stroke-width="0.8"/>
<circle cx="470.85" cy="449.03" r="2.35" fill="none" stroke="#1a1a1a" stroke-width="0.8"/>
<circle cx="473.25" cy="449.03" r="2.35" fill="none" stroke="#1a1a1a" stroke-width="0.8"/>
<path d="M503.95,482.73 V448.23 M501.95,448.23 h4 M501.95,482.73 h4" stroke="#111" stroke-width="1" fill="none"/>
<circle cx="499.75" cy="478.52" r="2.35" fill="none" stroke="#1a1a1a" stroke-width="0.8"/>
<circle cx="501.15" cy="478.52" r="2.35" fill="none" stroke="#1a1a1a" stroke-width="0.8"/>
<circle cx="502.55" cy="478.52" r="2.35" fill="none" stroke="#1a1a1a" stroke-width="0.8"/>
<circle cx="503.95" cy="478.52" r="2.35" fill="none" stroke="#1a1a1a" stroke-width="0.8"/>
<circle cx="505.35" cy="478.52" r="2.35" fill="none" stroke="#1a1a1a" stroke-width="0.8"/>
<circle cx="506.75" cy="478.52" r="2.35" fill="none" stroke="#1a1a1a" stroke-width="0.8"/>
<circle cx="508.15" cy="478.52" r="2.35" fill="none" stroke="#1a1a1a" stroke-width="0.8"/>
<circle cx="503.95" cy="468.69" r="2.35" fill="none" stroke="#1a1a1a" stroke-width="0.8"/>
<circle cx="503.95" cy="458.86" r="2.35" fill="none" stroke="#1a1a1a" stroke-width="0.8"/>
<circle cx="502.15" cy="449.03" r="2.35" fill="none" stroke="#1a1a1a" stroke-width="0.8"/>
<circle cx="503.35" cy="449.03" r="2.35" fill="none" stroke="#1a1a1a" stroke-width="0.8"/>
<circle cx="504.55" cy="449.03" r="2.35" fill="none" stroke="#1a1a1a" stroke-width="0.8"/>
<circle cx="505.75" cy="449.03" r="2.35" fill="none" stroke="#1a1a1a" stroke-width="0.8"/>
<circle cx="503.95" cy="439.2" r="2.35" fill="none" stroke="#1a1a1a" stroke-width="0.8"/>
<circle cx="503.95" cy="419.75" r="2.35" fill="none" stroke="#1a1a1a" stroke-width="0.8"/>
<path d="M524.35,476.52 V436.4 M522.35,436.4 h4 M522.35,476.52 h4" stroke="#111" stroke-width="1" fill="none"/>
<circle cx="521.95" cy="478.52" r="2.35" fill="none" stroke="#1a1a1a" stroke-width="0.8"/>
<circle cx="524.35" cy="478.52" r="2.35" fill="none" stroke="#1a1a1a" stroke-width="0.8"/>
<circle cx="526.75" cy="478.52" r="2.35" fill="none" stroke="#1a1a1a" stroke-width="0.8"/>
<circle cx="521.95" cy="468.69" r="2.35" fill="none" stroke="#1a1a1a" stroke-width="0.8"/>
<circle cx="524.35" cy="468.69" r="2.35" fill="none" stroke="#1a1a1a" stroke-width="0.8"/>
<circle cx="526.75" cy="468.69" r="2.35" fill="none" stroke="#1a1a1a" stroke-width="0.8"/>
<circle cx="519.55" cy="458.86" r="2.35" fill="none" stroke="#1a1a1a" stroke-width="0.8"/>
<circle cx="521.95" cy="458.86" r="2.35" fill="none" stroke="#1a1a1a" stroke-width="0.8"/>
<circle cx="524.35" cy="458.86" r="2.35" fill="none" stroke="#1a1a1a" stroke-width="0.8"/>
<circle cx="526.75" cy="458.86" r="2.35" fill="none" stroke="#1a1a1a" stroke-width="0.8"/>
<circle cx="529.15" cy="458.86" r="2.35" fill="none" stroke="#1a1a1a" stroke-width="0.8"/>
<circle cx="521.95" cy="449.03" r="2.35" fill="none" stroke="#1a1a1a" stroke-width="0.8"/>
<circle cx="524.35" cy="449.03" r="2.35" fill="none" stroke="#1a1a1a" stroke-width="0.8"/>
<circle cx="526.75" cy="449.03" r="2.35" fill="none" stroke="#1a1a1a" stroke-width="0.8"/>
<circle cx="521.95" cy="439.2" r="2.35" fill="none" stroke="#1a1a1a" stroke-width="0.8"/>
<circle cx="524.35" cy="439.2" r="2.35" fill="none" stroke="#1a1a1a" stroke-width="0.8"/>
<circle cx="526.75" cy="439.2" r="2.35" fill="none" stroke="#1a1a1a" stroke-width="0.8"/>
<circle cx="524.35" cy="419.75" r="2.35" fill="none" stroke="#1a1a1a" stroke-width="0.8"/>
<circle cx="524.35" cy="409.92" r="2.35" fill="none" stroke="#1a1a1a" stroke-width="0.8"/>
<path d="M435.3,404 V504.6 H538.3" fill="none" stroke="#5a5a5a" stroke-width="1"/>
<line x1="431.7" y1="504.6" x2="435.3" y2="504.6" stroke="#5a5a5a" stroke-width="1"/>
<text x="429.8" y="506.5" font-size="9.4" text-anchor="end" fill="#141414">8</text>
<line x1="431.7" y1="484.54" x2="435.3" y2="484.54" stroke="#5a5a5a" stroke-width="1"/>
<text x="429.8" y="486.44" font-size="9.4" text-anchor="end" fill="#141414">9</text>
<line x1="431.7" y1="464.48" x2="435.3" y2="464.48" stroke="#5a5a5a" stroke-width="1"/>
<text x="429.8" y="466.38" font-size="9.4" text-anchor="end" fill="#141414">10</text>
<line x1="431.7" y1="444.42" x2="435.3" y2="444.42" stroke="#5a5a5a" stroke-width="1"/>
<text x="429.8" y="446.32" font-size="9.4" text-anchor="end" fill="#141414">11</text>
<line x1="431.7" y1="424.36" x2="435.3" y2="424.36" stroke="#5a5a5a" stroke-width="1"/>
<text x="429.8" y="426.26" font-size="9.4" text-anchor="end" fill="#141414">12</text>
<line x1="431.7" y1="404.3" x2="435.3" y2="404.3" stroke="#5a5a5a" stroke-width="1"/>
<text x="429.8" y="406.2" font-size="9.4" text-anchor="end" fill="#141414">13</text>
<line x1="459.4" y1="501.3" x2="459.4" y2="504.6" stroke="#5a5a5a" stroke-width="1"/>
<line x1="514" y1="501.3" x2="514" y2="504.6" stroke="#5a5a5a" stroke-width="1"/>
<text x="459.9" y="517" font-size="9.5" text-anchor="middle" fill="#141414">Wake</text>
<text x="514.7" y="517" font-size="9.5" text-anchor="middle" fill="#141414">Maintenance</text>
<text x="417.4" y="450.8" font-size="9.4" text-anchor="middle" fill="#141414" transform="rotate(-90 417.4 450.8)">Alpha Peak Frequency(Hz)</text>
<text x="14.6" y="253.1" font-size="11" text-anchor="start" fill="#000" font-weight="bold">E</text>
<text x="143.7" y="253.1" font-size="11" text-anchor="start" fill="#000" font-weight="bold">F</text>
<text x="275.2" y="253.1" font-size="11" text-anchor="start" fill="#000" font-weight="bold">G</text>
<text x="407.2" y="253.1" font-size="11" text-anchor="start" fill="#000" font-weight="bold">H</text>
<text x="14.4" y="389.4" font-size="11" text-anchor="start" fill="#000" font-weight="bold">I</text>
<text x="142.2" y="389.4" font-size="11" text-anchor="start" fill="#000" font-weight="bold">J</text>
<text x="280" y="389.4" font-size="11" text-anchor="start" fill="#000" font-weight="bold">K</text>
<text x="406" y="389.4" font-size="11" text-anchor="start" fill="#000" font-weight="bold">L</text>
</svg>
</body></html>
